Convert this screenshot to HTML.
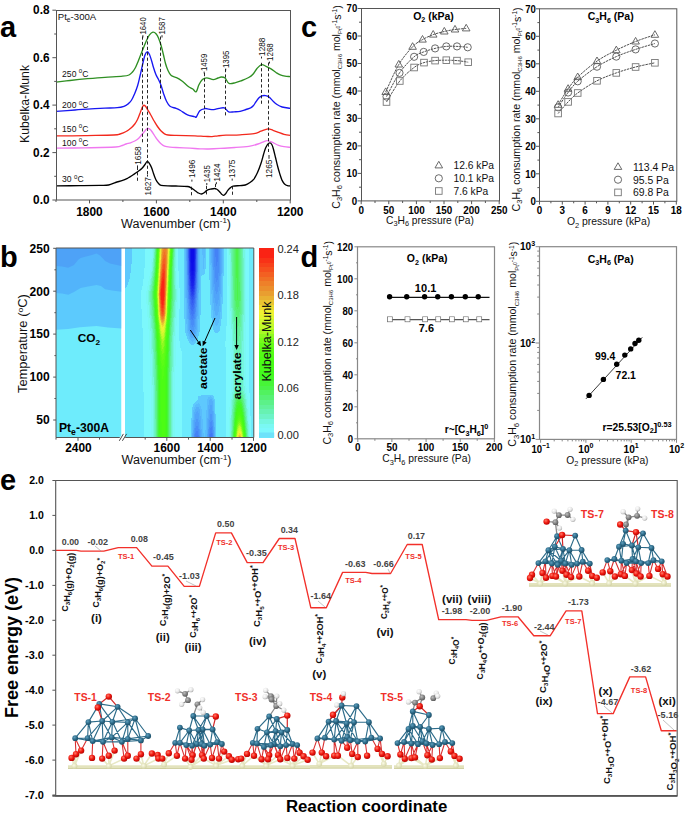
<!DOCTYPE html>
<html><head><meta charset="utf-8"><title>Figure</title>
<style>html,body{margin:0;padding:0;background:#fff;}svg{display:block;}</style></head>
<body><svg width="685" height="814" viewBox="0 0 685 814" font-family="'Liberation Sans', sans-serif">
<rect width="685" height="814" fill="#fff"/>
<text x="0" y="37" font-size="29" font-weight="bold">a</text>
<g fill="none" stroke-width="1.35" stroke-linejoin="round">
<path d="M56 82.2C58.3 81.9 64.8 81.1 70 80.5C75.2 79.9 81.7 79.2 87.5 78.7C93.3 78.2 99.2 77.7 105 77.3C110.8 76.9 118.6 76.6 122.6 76.2C126.6 75.8 127.3 75.7 129 75C130.7 74.3 131.4 73.2 132.5 72C133.6 70.8 134.5 69.3 135.5 67.5C136.5 65.7 137.4 63.2 138.3 61C139.2 58.8 140.1 56.2 141 54C141.9 51.8 142.7 49.8 143.6 47.5C144.5 45.2 145.5 42.6 146.5 40.5C147.5 38.4 148.4 36.2 149.5 34.8C150.6 33.4 151.8 32.4 152.9 32.2C154 32 155.1 32.8 156 33.8C156.9 34.8 157.7 36 158.5 38C159.3 40 160.3 42.7 161.1 45.5C161.9 48.3 162.8 52 163.5 55C164.2 58 164.8 60.9 165.5 63.5C166.2 66.1 167.1 68.5 168 70.5C168.9 72.5 169.8 74.3 171.2 75.5C172.6 76.7 174.7 76.7 176.5 77.6C178.3 78.5 180 79.5 182 81C184 82.5 186.5 85.2 188.3 86.5C190.1 87.8 191.5 88.1 192.8 89C194.1 89.9 195.2 92.5 196.2 91.8C197.2 91.1 197.8 87 198.8 85C199.8 83 201.1 80.7 202.4 79.5C203.7 78.3 204.9 77.8 206.7 77.8C208.5 77.8 211.4 79.6 213.3 79.6C215.2 79.6 216.7 78.4 218 78C219.3 77.6 220 77 221.2 77C222.4 77 223.8 76.9 225.1 78C226.4 79.1 227.2 82.6 229 83.4C230.8 84.2 233.4 83.1 235.6 82.6C237.8 82.1 239.8 81.3 242 80.5C244.2 79.7 246.9 78.5 248.7 77.5C250.5 76.5 251.3 76 252.7 74.5C254.1 73 255.5 70.2 257 68.5C258.5 66.8 260 65 261.5 64.6C263 64.2 264.4 65.6 266 66.3C267.6 67 269.3 67.8 271 68.8C272.7 69.8 274.4 71.5 276 72.5C277.6 73.5 278.8 74.3 280.3 74.9C281.8 75.5 283.3 75.9 285 76.2C286.7 76.5 289.4 76.5 290.3 76.6" stroke="#2f8f23"/>
<path d="M56 111.4C59.2 111.2 69.2 110.4 75 110C80.8 109.6 86 109.1 91 108.8C96 108.5 100.6 108.4 105 108.2C109.4 108 114.1 108 117.3 107.7C120.5 107.4 122.2 106.9 124 106.3C125.8 105.7 126.8 105 128 104C129.2 103 130.2 102.2 131.3 100.5C132.4 98.8 133.5 96.4 134.5 94C135.5 91.6 136.6 89 137.5 86C138.4 83 139.1 79.7 140 76C140.9 72.3 141.9 67.5 142.7 64C143.5 60.5 144.3 57 145 55C145.7 53 146.3 51.9 147.1 51.8C147.8 51.7 148.8 53 149.5 54.5C150.2 56 150.8 58.3 151.5 60.5C152.2 62.7 152.8 65.2 153.5 67.5C154.2 69.8 155.1 72.5 155.9 74.5C156.7 76.5 157.6 77.7 158.5 79.5C159.4 81.3 160.3 83.2 161.1 85.5C161.9 87.8 162.6 90.9 163.5 93.5C164.4 96.1 165.3 98.9 166.4 101C167.5 103.1 168.4 105.1 170 106.3C171.6 107.5 174.2 107.7 176 108.4C177.8 109.1 178.6 109.4 180.5 110.5C182.4 111.6 185.2 113.9 187.5 114.9C189.8 115.9 193 116.2 194.5 116.6C196 116.9 195.4 118 196.3 117C197.2 116 198.4 112.2 199.8 110.8C201.2 109.4 203.5 108.9 205 108.6C206.5 108.3 207.5 109 209 109.2C210.5 109.4 212.1 109.7 213.8 109.6C215.5 109.5 217.2 108.7 219 108.4C220.8 108.1 222.7 107.3 224.3 107.9C225.9 108.5 227.1 111.2 228.7 111.9C230.3 112.6 232.1 111.9 234 111.8C235.9 111.7 238.1 111.8 240.1 111.4C242.1 111 244.2 110.1 246 109.5C247.8 108.9 249.3 108.6 250.6 107.9C251.8 107.2 252.6 106.5 253.5 105.5C254.4 104.5 254.9 103.3 255.8 102C256.7 100.7 258 98.8 259 97.8C260 96.8 260.9 96.2 262 95.8C263.1 95.4 264.3 95.4 265.5 95.6C266.7 95.8 267.7 96 269 97C270.3 98 272.1 100.2 273.4 101.5C274.7 102.8 275.6 103.6 277 104.5C278.4 105.4 279.9 106.3 282.1 107C284.3 107.7 288.9 108.2 290.3 108.4" stroke="#1717f2"/>
<path d="M56 135.9C60.8 135.8 75.4 135.8 85 135.6C94.6 135.4 108 135.3 113.8 135C119.6 134.7 118 134.6 120 134C122 133.4 124.3 132.5 126.1 131.5C127.9 130.5 129.6 129.2 131 128C132.4 126.8 133.7 125.4 134.8 124C135.9 122.6 136.6 121.3 137.5 119.5C138.4 117.7 139.3 114.9 140.1 113C140.8 111.1 141.4 109.3 142 108C142.6 106.7 143 105.6 143.6 105.3C144.2 105 144.7 105.4 145.3 106C145.9 106.6 146.2 107.4 147.1 108.8C148 110.2 149.3 112.5 150.5 114.5C151.7 116.5 152.9 119 154.1 121C155.3 123 156.3 124.8 157.5 126.5C158.7 128.2 159.9 129.8 161.1 131C162.3 132.2 163.3 133.1 164.5 133.8C165.7 134.5 166.2 134.7 168.1 135C170 135.3 171.5 135.3 176 135.4C180.5 135.5 190.2 135.7 195 135.8C199.8 136 202.2 136.2 205 136.3C207.8 136.4 209.8 136.7 212 136.6C214.2 136.5 215.7 136 218 135.8C220.3 135.6 222.3 135.4 226 135.2C229.7 135 235.3 135.1 240 134.8C244.7 134.5 250.6 134.2 254.1 133.6C257.6 133 258.7 132 261 131.2C263.3 130.4 266.1 129.1 268.1 128.9C270.1 128.8 271.2 129.7 273 130.3C274.8 130.9 276.8 131.7 278.6 132.4C280.4 133.1 282.1 133.9 284 134.4C285.9 134.9 289.2 135.2 290.3 135.3" stroke="#f2291d"/>
<path d="M56 148.2C60.8 148.1 75.1 148 85 147.8C94.9 147.6 109.6 147.3 115.6 147C121.6 146.7 119.2 146.3 121 145.8C122.8 145.3 124.5 144.5 126.1 144C127.7 143.5 129.1 143.3 130.5 142.8C131.9 142.3 133.5 141.7 134.8 141C136.1 140.3 137.3 139.6 138.5 138.5C139.7 137.4 140.8 135.7 141.8 134.5C142.8 133.3 143.8 132.4 144.5 131.5C145.2 130.6 145.7 129.7 146.3 129.2C146.9 128.7 147.4 128.3 148 128.3C148.6 128.3 149.4 128.9 150 129.3C150.6 129.8 150.8 130 151.5 131C152.2 132 153.5 134 154.5 135.5C155.5 137 156.5 138.6 157.6 140C158.7 141.4 159.8 142.8 161 143.8C162.2 144.8 163.1 145.6 164.6 146.2C166.1 146.8 168.1 147 170 147.2C171.9 147.4 172.7 147.3 176 147.5C179.3 147.7 186 148 190 148.2C194 148.4 196.9 148.7 200 148.8C203.1 148.9 205.2 149.1 208.5 149C211.8 148.9 215.6 148.7 220 148.4C224.4 148.2 230.2 147.8 235 147.5C239.8 147.2 245 146.9 248.8 146.3C252.6 145.7 255.6 144.8 258 144C260.4 143.2 262 142.4 263.5 141.8C265 141.2 265.8 140.5 267.2 140.6C268.6 140.7 270.1 141.4 272 142.2C273.9 143 276.6 144.6 278.6 145.3C280.6 146.1 282.1 146.4 284 146.7C285.9 147 289.2 147.2 290.3 147.3" stroke="#f078f0"/>
<path d="M56 185.8C60 185.8 72.7 185.7 80 185.6C87.3 185.5 95.2 185.5 100 185.4C104.8 185.3 106 185.5 108.6 185C111.2 184.5 113.3 183.3 115.6 182.5C117.9 181.7 120.5 181.2 122.6 180.4C124.7 179.7 126.2 178.9 128 178C129.8 177.1 131.4 175.9 133.1 174.8C134.8 173.7 136.6 172.6 138 171.5C139.4 170.4 140.6 169.7 141.8 168.5C143 167.3 144.1 165.7 145 164.5C145.9 163.3 146.4 161.8 147.1 161.5C147.8 161.2 148.3 161.8 149 162.8C149.7 163.8 150.8 165.7 151.5 167.5C152.2 169.3 152.8 171.4 153.5 173.5C154.2 175.6 155.1 178.1 155.9 179.8C156.7 181.5 157.6 182.6 158.5 183.5C159.4 184.4 159.5 184.9 161.1 185.3C162.7 185.7 165.5 185.8 168 185.9C170.5 186 172.8 185.9 176 186C179.2 186.1 185 186.2 187.5 186.5C190 186.8 189.8 187.2 191 187.8C192.2 188.4 193.3 189.4 194.5 190.2C195.7 191 196.8 192.2 198 192.8C199.2 193.4 200.4 194.1 201.5 194C202.6 193.9 203.6 193.1 204.5 192.5C205.4 191.9 205.8 191 206.8 190.4C207.8 189.8 209 189.5 210.5 189.2C212 188.9 214.2 188.3 215.6 188.6C217 188.9 218.1 190.3 219.1 191.2C220.1 192.1 220.8 193.3 221.5 194C222.2 194.7 222.7 195.4 223.4 195.3C224.1 195.2 225.1 194.3 225.8 193.5C226.5 192.7 227 191.4 227.8 190.4C228.6 189.4 229.6 188.3 230.5 187.6C231.4 186.9 231.5 186.5 233.1 186.2C234.7 185.9 238 185.8 240 185.6C242 185.4 243.6 185.5 245.3 185C247 184.5 248.5 183.5 250 182.5C251.5 181.5 252.8 180.5 254.1 178.8C255.3 177.1 256.3 175.1 257.5 172.5C258.7 169.9 260.1 166 261.1 163C262.1 160 262.8 156.9 263.5 154.5C264.2 152.1 264.8 150 265.5 148.3C266.2 146.6 266.9 145.2 267.6 144.3C268.3 143.4 269.2 142.9 269.9 142.9C270.6 142.9 271.2 143.5 271.8 144.5C272.4 145.5 272.8 146.8 273.4 149C274 151.2 274.8 154.6 275.5 157.5C276.2 160.4 276.9 163.7 277.7 166.5C278.4 169.3 279.3 172.2 280 174.5C280.7 176.8 281.4 178.8 282.1 180.4C282.9 182 283.6 183.1 284.5 184C285.4 184.9 286.4 185.4 287.4 185.7C288.4 186 289.8 185.9 290.3 186" stroke="#000"/>
</g>
<g stroke="#111" stroke-width="0.9" stroke-dasharray="3.2 2.2">
<line x1="142.5" y1="36.5" x2="142.5" y2="143"/>
<line x1="147.5" y1="36" x2="147.5" y2="175.5"/>
<line x1="160.5" y1="36.5" x2="160.5" y2="101"/>
<line x1="204.5" y1="73" x2="204.5" y2="118.5"/>
<line x1="225.5" y1="69" x2="225.5" y2="117.5"/>
<line x1="261.5" y1="62.8" x2="261.5" y2="104.5"/>
<line x1="268.5" y1="62.5" x2="268.5" y2="152"/>
<line x1="137.5" y1="166.8" x2="137.5" y2="182.5"/>
<line x1="191.5" y1="186.7" x2="191.5" y2="196.2"/>
<line x1="206.5" y1="185.8" x2="206.5" y2="196.2"/>
<line x1="215.5" y1="183.8" x2="215.5" y2="189.6"/>
<line x1="232.5" y1="186.2" x2="232.5" y2="196.2"/>
</g>
<text x="0" y="0" font-size="9" text-anchor="middle" fill="#111" textLength="17.3" lengthAdjust="spacingAndGlyphs" transform="translate(146.1 25.9) rotate(-90)">1640</text>
<text x="0" y="0" font-size="9" text-anchor="middle" fill="#111" textLength="17.3" lengthAdjust="spacingAndGlyphs" transform="translate(165.2 25.9) rotate(-90)">1587</text>
<text x="0" y="0" font-size="9" text-anchor="middle" fill="#111" textLength="17.2" lengthAdjust="spacingAndGlyphs" transform="translate(207.4 62.4) rotate(-90)">1459</text>
<text x="0" y="0" font-size="9" text-anchor="middle" fill="#111" textLength="17.4" lengthAdjust="spacingAndGlyphs" transform="translate(228.9 59.3) rotate(-90)">1395</text>
<text x="0" y="0" font-size="9" text-anchor="middle" fill="#111" textLength="18.2" lengthAdjust="spacingAndGlyphs" transform="translate(264.7 46.8) rotate(-90)">1288</text>
<text x="0" y="0" font-size="9" text-anchor="middle" fill="#111" textLength="17.7" lengthAdjust="spacingAndGlyphs" transform="translate(272.7 52.1) rotate(-90)">1268</text>
<text x="0" y="0" font-size="9" text-anchor="middle" fill="#111" textLength="18.4" lengthAdjust="spacingAndGlyphs" transform="translate(140.7 155.6) rotate(-90)">1658</text>
<text x="0" y="0" font-size="9" text-anchor="middle" fill="#111" textLength="18.3" lengthAdjust="spacingAndGlyphs" transform="translate(150.7 186.3) rotate(-90)">1627</text>
<text x="0" y="0" font-size="9" text-anchor="middle" fill="#111" textLength="18.4" lengthAdjust="spacingAndGlyphs" transform="translate(195.1 168.8) rotate(-90)">1496</text>
<text x="0" y="0" font-size="9" text-anchor="middle" fill="#111" textLength="17.1" lengthAdjust="spacingAndGlyphs" transform="translate(210 173.8) rotate(-90)">1435</text>
<text x="0" y="0" font-size="9" text-anchor="middle" fill="#111" textLength="18.1" lengthAdjust="spacingAndGlyphs" transform="translate(219.6 172.4) rotate(-90)">1424</text>
<text x="0" y="0" font-size="9" text-anchor="middle" fill="#111" textLength="18.4" lengthAdjust="spacingAndGlyphs" transform="translate(235.4 168.8) rotate(-90)">1375</text>
<text x="0" y="0" font-size="9" text-anchor="middle" fill="#111" textLength="18.4" lengthAdjust="spacingAndGlyphs" transform="translate(272.2 168.8) rotate(-90)">1265</text>
<g stroke="#111" stroke-width="0.9">
<line x1="142.9" y1="35.2" x2="142.9" y2="37.5"/>
<line x1="162" y1="35.2" x2="162" y2="37.5"/>
<line x1="204.2" y1="71.6" x2="204.2" y2="73.5"/>
<line x1="225.7" y1="68.6" x2="225.7" y2="70.5"/>
<line x1="261.5" y1="56.6" x2="261.5" y2="58.5"/>
<line x1="269.5" y1="61.6" x2="269.5" y2="63.5"/>
<line x1="137.5" y1="165.4" x2="137.5" y2="167.4"/>
<line x1="147.5" y1="174.6" x2="147.5" y2="176.6"/>
<line x1="191.9" y1="179.6" x2="191.9" y2="181.6"/>
<line x1="206.8" y1="183" x2="206.8" y2="185"/>
<line x1="216.4" y1="182.2" x2="216.4" y2="184.2"/>
<line x1="232.2" y1="178.6" x2="232.2" y2="180.6"/>
<line x1="269" y1="155" x2="269" y2="158.8"/>
</g>
<text x="62.1" y="77" font-size="9.2" fill="#111" textLength="26.3" lengthAdjust="spacingAndGlyphs">250 <tspan font-size="6.5" dy="-3.6">o</tspan><tspan dy="3.6">C</tspan></text>
<text x="62.1" y="108.2" font-size="9.2" fill="#111" textLength="26.3" lengthAdjust="spacingAndGlyphs">200 <tspan font-size="6.5" dy="-3.6">o</tspan><tspan dy="3.6">C</tspan></text>
<text x="62.1" y="131.5" font-size="9.2" fill="#111" textLength="26.3" lengthAdjust="spacingAndGlyphs">150 <tspan font-size="6.5" dy="-3.6">o</tspan><tspan dy="3.6">C</tspan></text>
<text x="62.1" y="145.5" font-size="9.2" fill="#111" textLength="26.3" lengthAdjust="spacingAndGlyphs">100 <tspan font-size="6.5" dy="-3.6">o</tspan><tspan dy="3.6">C</tspan></text>
<text x="62.1" y="182.3" font-size="9.2" fill="#111" textLength="21.5" lengthAdjust="spacingAndGlyphs">30 <tspan font-size="6.5" dy="-3.6">o</tspan><tspan dy="3.6">C</tspan></text>
<text x="57.8" y="19.7" font-size="9.3" fill="#111" textLength="38.4" lengthAdjust="spacingAndGlyphs">Pt<tspan font-size="6.5" dy="2.2">e</tspan><tspan dy="-2.2">-300A</tspan></text>
<rect x="56.5" y="10.5" width="234" height="189.5" fill="none" stroke="#555" stroke-width="1"/>
<g stroke="#555" stroke-width="1">
<line x1="52.4" y1="200" x2="56" y2="200"/>
<line x1="54.2" y1="176.3" x2="56" y2="176.3"/>
<line x1="52.4" y1="152.6" x2="56" y2="152.6"/>
<line x1="54.2" y1="128.8" x2="56" y2="128.8"/>
<line x1="52.4" y1="105.1" x2="56" y2="105.1"/>
<line x1="54.2" y1="81.4" x2="56" y2="81.4"/>
<line x1="52.4" y1="57.7" x2="56" y2="57.7"/>
<line x1="54.2" y1="34" x2="56" y2="34"/>
<line x1="52.4" y1="10.2" x2="56" y2="10.2"/>
<line x1="56" y1="200" x2="56" y2="202"/>
<line x1="89.5" y1="200" x2="89.5" y2="203.4"/>
<line x1="122.9" y1="200" x2="122.9" y2="202"/>
<line x1="156.4" y1="200" x2="156.4" y2="203.4"/>
<line x1="189.8" y1="200" x2="189.8" y2="202"/>
<line x1="223.3" y1="200" x2="223.3" y2="203.4"/>
<line x1="256.8" y1="200" x2="256.8" y2="202"/>
<line x1="290.2" y1="200" x2="290.2" y2="203.4"/>
</g>
<text x="49.5" y="204.2" font-size="12" font-weight="bold" text-anchor="end" textLength="16.4" lengthAdjust="spacingAndGlyphs">0.0</text>
<text x="49.5" y="156.8" font-size="12" font-weight="bold" text-anchor="end" textLength="16.4" lengthAdjust="spacingAndGlyphs">0.2</text>
<text x="49.5" y="109.3" font-size="12" font-weight="bold" text-anchor="end" textLength="16.4" lengthAdjust="spacingAndGlyphs">0.4</text>
<text x="49.5" y="61.9" font-size="12" font-weight="bold" text-anchor="end" textLength="16.4" lengthAdjust="spacingAndGlyphs">0.6</text>
<text x="49.5" y="14.4" font-size="12" font-weight="bold" text-anchor="end" textLength="16.4" lengthAdjust="spacingAndGlyphs">0.8</text>
<text x="89.5" y="216" font-size="12" font-weight="bold" text-anchor="middle" textLength="26.5" lengthAdjust="spacingAndGlyphs">1800</text>
<text x="156.4" y="216" font-size="12" font-weight="bold" text-anchor="middle" textLength="26.5" lengthAdjust="spacingAndGlyphs">1600</text>
<text x="223.3" y="216" font-size="12" font-weight="bold" text-anchor="middle" textLength="26.5" lengthAdjust="spacingAndGlyphs">1400</text>
<text x="290.2" y="216" font-size="12" font-weight="bold" text-anchor="middle" textLength="26.5" lengthAdjust="spacingAndGlyphs">1200</text>
<text x="176" y="227.6" font-size="12" text-anchor="middle" fill="#111" textLength="110" lengthAdjust="spacingAndGlyphs">Wavenumber (cm<tspan font-size="7.5" dy="-4.5">-1</tspan><tspan dy="4.5">)</tspan></text>
<text x="0" y="0" font-size="12" text-anchor="middle" fill="#111" textLength="78" lengthAdjust="spacingAndGlyphs" transform="translate(28.8 104) rotate(-90)">Kubelka-Munk</text>
<text x="0" y="266.5" font-size="29" font-weight="bold">b</text>
<g shape-rendering="crispEdges">
<path fill="#0c0ce8" d="M191.5 248h1v7h-1z"/>
<path fill="#0c0ce8" d="M190.5 248h1v5h-1zM191.5 255h1v9h-1zM192.5 248h1v4h-1z"/>
<path fill="#0c0de8" d="M190.5 253h1v10h-1zM191.5 264h1v7h-1zM192.5 252h1v10h-1z"/>
<path fill="#0f11e9" d="M190.5 263h1v8h-1zM191.5 271h1v4h-1zM192.5 262h1v9h-1z"/>
<path fill="#1216e9" d="M189.5 248h1v2h-1zM190.5 271h1v4h-1zM191.5 275h1v4h-1zM192.5 271h1v4h-1zM193.5 248h1v1h-1z"/>
<path fill="#141bea" d="M189.5 250h1v12h-1zM190.5 275h1v4h-1zM191.5 279h1v3h-1zM192.5 275h1v4h-1zM193.5 249h1v12h-1z"/>
<path fill="#171fea" d="M189.5 262h1v10h-1zM190.5 279h1v4h-1zM191.5 282h1v4h-1zM192.5 279h1v4h-1zM193.5 261h1v10h-1z"/>
<path fill="#1a25eb" d="M189.5 272h1v4h-1zM190.5 283h1v3h-1zM191.5 286h1v2h-1zM192.5 283h1v3h-1zM193.5 271h1v5h-1z"/>
<path fill="#1e2fec" d="M189.5 276h1v5h-1zM190.5 286h1v3h-1zM191.5 288h1v3h-1zM192.5 286h1v3h-1zM193.5 276h1v5h-1z"/>
<path fill="#233aed" d="M188.5 248h1v13h-1zM189.5 281h1v5h-1zM190.5 289h1v3h-1zM191.5 291h1v3h-1zM192.5 289h1v3h-1zM193.5 281h1v4h-1zM194.5 248h1v11h-1z"/>
<path fill="#2744ee" d="M188.5 261h1v12h-1zM189.5 286h1v3h-1zM190.5 292h1v3h-1zM191.5 294h1v2h-1zM192.5 292h1v3h-1zM193.5 285h1v4h-1zM194.5 259h1v13h-1z"/>
<path fill="#2c4fef" d="M188.5 273h1v6h-1zM189.5 289h1v3h-1zM190.5 295h1v2h-1zM191.5 296h1v3h-1zM192.5 295h1v2h-1zM193.5 289h1v3h-1zM194.5 272h1v6h-1z"/>
<path fill="#3259f1" d="M188.5 279h1v7h-1zM189.5 292h1v4h-1zM190.5 297h1v3h-1zM191.5 299h1v4h-1zM192.5 297h1v3h-1zM193.5 292h1v3h-1zM194.5 278h1v7h-1z"/>
<path fill="#3764f2" d="M187.5 248h1v10h-1zM188.5 286h1v4h-1zM189.5 296h1v3h-1zM190.5 300h1v5h-1zM191.5 303h1v4h-1zM192.5 300h1v5h-1zM193.5 295h1v4h-1zM194.5 285h1v4h-1zM195.5 248h1v6h-1z"/>
<path fill="#3c6ef4" d="M187.5 258h1v17h-1zM188.5 290h1v5h-1zM189.5 299h1v5h-1zM190.5 305h1v5h-1zM191.5 307h1v4h-1zM192.5 305h1v4h-1zM193.5 299h1v4h-1zM194.5 289h1v5h-1zM195.5 254h1v20h-1z"/>
<path fill="#4078f5" d="M187.5 275h1v10h-1zM188.5 295h1v4h-1zM189.5 304h1v5h-1zM190.5 310h1v4h-1zM191.5 311h1v5h-1zM192.5 309h1v5h-1zM193.5 303h1v5h-1zM194.5 294h1v4h-1zM195.5 274h1v9h-1zM195.5 436h1v1.5h-1zM196.5 436h1v1.5h-1zM209.5 434h1v3.5h-1zM210.5 433h1v4.5h-1z"/>
<path fill="#4482f6" d="M187.5 285h1v7h-1zM188.5 299h1v7h-1zM189.5 309h1v6h-1zM190.5 314h1v5h-1zM191.5 316h1v4h-1zM192.5 314h1v4h-1zM193.5 308h1v6h-1zM194.5 298h1v6h-1zM194.5 433h1v4.5h-1zM195.5 283h1v8h-1zM195.5 431h1v5h-1zM196.5 431h1v5h-1zM197.5 435h1v2.5h-1zM208.5 434h1v3.5h-1zM209.5 428h1v6h-1zM210.5 427h1v6h-1zM211.5 433h1v4.5h-1zM214.5 248h1v9h-1zM215.5 248h1v18h-1zM216.5 248h1v14h-1z"/>
<path fill="#488df7" d="M186.5 248h1v27h-1zM187.5 292h1v7h-1zM188.5 306h1v7h-1zM189.5 315h1v5h-1zM190.5 319h1v6h-1zM191.5 320h1v7h-1zM192.5 318h1v7h-1zM193.5 314h1v5h-1zM193.5 434h1v3.5h-1zM194.5 304h1v8h-1zM194.5 428h1v5h-1zM195.5 291h1v7h-1zM195.5 426h1v5h-1zM196.5 248h1v24h-1zM196.5 426h1v5h-1zM197.5 429h1v6h-1zM198.5 436h1v1.5h-1zM208.5 427h1v7h-1zM209.5 422h1v6h-1zM210.5 421h1v6h-1zM211.5 426h1v7h-1zM213.5 248h1v19h-1zM214.5 257h1v21h-1zM215.5 266h1v16h-1zM216.5 262h1v18h-1zM217.5 248h1v25h-1z"/>
<path fill="#4c98f8" d="M186.5 275h1v15h-1zM187.5 299h1v10h-1zM188.5 313h1v7h-1zM189.5 320h1v8h-1zM190.5 325h1v6h-1zM191.5 327h1v5h-1zM192.5 325h1v6h-1zM192.5 437h1v0.5h-1zM193.5 319h1v8h-1zM193.5 428h1v6h-1zM194.5 312h1v7h-1zM194.5 422h1v6h-1zM195.5 298h1v9h-1zM195.5 419h1v7h-1zM196.5 272h1v16h-1zM196.5 419h1v7h-1zM197.5 422h1v7h-1zM198.5 429h1v7h-1zM207.5 429h1v8.5h-1zM208.5 420h1v7h-1zM209.5 414h1v8h-1zM210.5 414h1v7h-1zM211.5 420h1v6h-1zM212.5 248h1v22h-1zM212.5 430h1v7.5h-1zM213.5 267h1v17h-1zM214.5 278h1v13h-1zM215.5 282h1v12h-1zM216.5 280h1v12h-1zM217.5 273h1v14h-1zM218.5 248h1v28h-1z"/>
<path fill="#50a4fa" d="M185.5 248h1v13h-1zM186.5 290h1v13h-1zM187.5 309h1v10h-1zM188.5 320h1v10h-1zM189.5 328h1v5h-1zM190.5 331h1v4h-1zM191.5 332h1v3h-1zM192.5 331h1v3h-1zM192.5 430h1v7h-1zM193.5 327h1v6h-1zM193.5 420h1v8h-1zM194.5 319h1v10h-1zM194.5 414h1v8h-1zM195.5 307h1v10h-1zM195.5 412h1v7h-1zM196.5 288h1v12h-1zM196.5 411h1v8h-1zM197.5 413h1v9h-1zM198.5 420h1v9h-1zM199.5 430h1v7.5h-1zM206.5 434h1v3.5h-1zM207.5 419h1v10h-1zM208.5 409h1v11h-1zM209.5 405h1v9h-1zM210.5 405h1v9h-1zM211.5 248h1v19h-1zM211.5 411h1v9h-1zM212.5 270h1v17h-1zM212.5 422h1v8h-1zM213.5 284h1v14h-1zM214.5 291h1v12h-1zM215.5 294h1v12h-1zM216.5 292h1v12h-1zM217.5 287h1v13h-1zM218.5 276h1v15h-1zM219.5 248h1v28h-1z"/>
<path fill="#54aefa" d="M185.5 261h1v37h-1zM186.5 303h1v16h-1zM187.5 319h1v12h-1zM188.5 330h1v4h-1zM189.5 333h1v4h-1zM190.5 335h1v3h-1zM191.5 335h1v3h-1zM191.5 433h1v4.5h-1zM192.5 334h1v4h-1zM192.5 420h1v10h-1zM193.5 333h1v3h-1zM193.5 412h1v8h-1zM194.5 329h1v5h-1zM194.5 409h1v5h-1zM195.5 317h1v13h-1zM195.5 407h1v5h-1zM196.5 300h1v16h-1zM196.5 407h1v4h-1zM197.5 248h1v45h-1zM197.5 407h1v6h-1zM198.5 409h1v11h-1zM199.5 416h1v14h-1zM200.5 429h1v8.5h-1zM206.5 418h1v16h-1zM207.5 405h1v14h-1zM208.5 400h1v9h-1zM209.5 399h1v6h-1zM210.5 248h1v15h-1zM210.5 399h1v6h-1zM211.5 267h1v23h-1zM211.5 401h1v10h-1zM212.5 287h1v16h-1zM212.5 411h1v11h-1zM213.5 298h1v13h-1zM213.5 427h1v10.5h-1zM214.5 303h1v12h-1zM215.5 306h1v10h-1zM216.5 304h1v11h-1zM217.5 300h1v12h-1zM218.5 291h1v15h-1zM219.5 276h1v18h-1zM220.5 248h1v26h-1z"/>
<path fill="#59bbfc" d="M184.5 248h1v50h-1zM185.5 298h1v26h-1zM186.5 319h1v14h-1zM187.5 331h1v5h-1zM188.5 334h1v5h-1zM189.5 337h1v3h-1zM190.5 338h1v3h-1zM190.5 437h1v0.5h-1zM191.5 338h1v4h-1zM191.5 420h1v13h-1zM192.5 338h1v3h-1zM192.5 410h1v10h-1zM193.5 336h1v4h-1zM193.5 407h1v5h-1zM194.5 334h1v4h-1zM194.5 405h1v4h-1zM195.5 330h1v6h-1zM195.5 404h1v3h-1zM196.5 316h1v16h-1zM196.5 404h1v3h-1zM197.5 293h1v26h-1zM197.5 403h1v4h-1zM198.5 248h1v42h-1zM198.5 404h1v5h-1zM199.5 406h1v10h-1zM200.5 409h1v20h-1zM201.5 248h1v7h-1zM201.5 419h1v18.5h-1zM202.5 248h1v21h-1zM202.5 433h1v4.5h-1zM203.5 248h1v10h-1zM204.5 430h1v7.5h-1zM205.5 410h1v27.5h-1zM206.5 399h1v19h-1zM207.5 397h1v8h-1zM208.5 397h1v3h-1zM209.5 248h1v17h-1zM209.5 396h1v3h-1zM210.5 263h1v31h-1zM210.5 397h1v2h-1zM211.5 290h1v20h-1zM211.5 398h1v3h-1zM212.5 303h1v15h-1zM212.5 400h1v11h-1zM213.5 311h1v11h-1zM213.5 413h1v14h-1zM214.5 315h1v10h-1zM214.5 437h1v0.5h-1zM215.5 316h1v10h-1zM216.5 315h1v10h-1zM217.5 312h1v11h-1zM218.5 306h1v13h-1zM219.5 294h1v18h-1zM220.5 274h1v23h-1zM221.5 248h1v25h-1z"/>
<path fill="#5ec8fd" d="M124.5 248h1v40h-1zM125.5 248h1v39h-1zM126.5 248h1v37h-1zM127.5 248h1v34h-1zM128.5 248h1v31h-1zM129.5 248h1v25h-1zM130.5 248h1v16h-1zM183.5 248h1v71h-1zM184.5 298h1v35h-1zM185.5 324h1v12h-1zM186.5 333h1v6h-1zM187.5 336h1v5h-1zM188.5 339h1v4h-1zM189.5 340h1v4h-1zM190.5 341h1v4h-1zM190.5 418h1v19h-1zM191.5 342h1v3h-1zM191.5 407h1v13h-1zM192.5 341h1v4h-1zM192.5 404h1v6h-1zM193.5 340h1v4h-1zM193.5 403h1v4h-1zM194.5 338h1v5h-1zM194.5 402h1v3h-1zM195.5 336h1v5h-1zM195.5 401h1v3h-1zM196.5 332h1v7h-1zM196.5 400h1v4h-1zM197.5 319h1v17h-1zM197.5 396h1v7h-1zM198.5 290h1v42h-1zM198.5 396h1v8h-1zM199.5 248h1v67h-1zM199.5 396h1v10h-1zM200.5 248h1v28h-1zM200.5 395h1v14h-1zM201.5 255h1v20h-1zM201.5 395h1v24h-1zM202.5 269h1v6h-1zM202.5 395h1v38h-1zM203.5 258h1v16h-1zM203.5 395h1v42.5h-1zM204.5 248h1v21h-1zM204.5 395h1v35h-1zM205.5 395h1v15h-1zM206.5 395h1v4h-1zM207.5 395h1v2h-1zM208.5 248h1v32h-1zM208.5 395h1v2h-1zM209.5 265h1v40h-1zM209.5 395h1v1h-1zM210.5 294h1v24h-1zM210.5 395h1v2h-1zM211.5 310h1v16h-1zM211.5 395h1v3h-1zM212.5 318h1v12h-1zM212.5 396h1v4h-1zM213.5 322h1v10h-1zM213.5 399h1v14h-1zM214.5 325h1v8h-1zM214.5 414h1v23h-1zM215.5 326h1v7h-1zM216.5 325h1v8h-1zM217.5 323h1v9h-1zM218.5 319h1v12h-1zM219.5 312h1v14h-1zM220.5 297h1v22h-1zM221.5 273h1v31h-1zM222.5 248h1v28h-1z"/>
<path fill="#6ceafc" d="M124.5 288h1v1h-1zM126.5 285h1v1h-1zM127.5 282h1v2h-1zM128.5 279h1v2h-1zM129.5 273h1v4h-1zM130.5 264h1v8h-1zM131.5 248h1v13h-1zM181.5 248h1v84h-1zM182.5 248h1v89h-1zM183.5 319h1v21h-1zM184.5 333h1v9h-1zM185.5 336h1v8h-1zM186.5 339h1v7h-1zM187.5 341h1v6h-1zM188.5 343h1v5h-1zM188.5 425h1v12.5h-1zM189.5 344h1v4h-1zM189.5 407h1v30.5h-1zM190.5 345h1v3h-1zM190.5 402h1v16h-1zM191.5 345h1v3h-1zM191.5 400h1v7h-1zM192.5 345h1v3h-1zM192.5 395h1v9h-1zM193.5 344h1v4h-1zM193.5 394h1v9h-1zM194.5 343h1v5h-1zM194.5 393h1v9h-1zM195.5 341h1v6h-1zM195.5 393h1v8h-1zM196.5 339h1v7h-1zM196.5 393h1v7h-1zM197.5 336h1v9h-1zM197.5 392h1v4h-1zM198.5 332h1v11h-1zM198.5 392h1v4h-1zM199.5 315h1v26h-1zM199.5 392h1v4h-1zM200.5 276h1v62h-1zM200.5 392h1v3h-1zM201.5 275h1v60h-1zM201.5 392h1v3h-1zM202.5 275h1v56h-1zM202.5 392h1v3h-1zM203.5 274h1v33h-1zM203.5 392h1v3h-1zM204.5 269h1v11h-1zM204.5 392h1v3h-1zM205.5 248h1v34h-1zM205.5 392h1v3h-1zM206.5 248h1v56h-1zM206.5 392h1v3h-1zM207.5 248h1v70h-1zM207.5 392h1v3h-1zM208.5 280h1v48h-1zM208.5 393h1v2h-1zM209.5 305h1v28h-1zM209.5 393h1v2h-1zM210.5 318h1v17h-1zM210.5 393h1v2h-1zM211.5 326h1v10h-1zM211.5 393h1v2h-1zM212.5 330h1v7h-1zM212.5 394h1v2h-1zM213.5 332h1v6h-1zM213.5 394h1v5h-1zM214.5 333h1v5h-1zM214.5 396h1v18h-1zM215.5 333h1v5h-1zM215.5 399h1v38.5h-1zM216.5 333h1v5h-1zM216.5 432h1v5.5h-1zM217.5 332h1v6h-1zM218.5 331h1v6h-1zM219.5 326h1v10h-1zM220.5 319h1v15h-1zM221.5 304h1v27h-1zM222.5 276h1v44h-1zM223.5 248h1v46h-1zM251.5 248h1v106h-1zM252.5 248h1v183h-1zM253.5 248h0.3v189.5h-0.3z"/>
<path fill="#6ceafc" d="M124.5 289h1v148.5h-1zM125.5 287h1v150.5h-1zM126.5 286h1v151.5h-1zM127.5 284h1v153.5h-1zM128.5 281h1v156.5h-1zM129.5 277h1v160.5h-1zM130.5 272h1v165.5h-1zM131.5 261h1v176.5h-1zM132.5 248h1v189.5h-1zM133.5 248h1v189.5h-1zM134.5 248h1v189.5h-1zM135.5 248h1v189.5h-1zM136.5 248h1v189.5h-1zM137.5 248h1v189.5h-1zM138.5 248h1v189.5h-1zM139.5 248h1v189.5h-1zM140.5 248h1v42h-1zM140.5 309h1v128.5h-1zM141.5 248h1v38h-1zM141.5 328h1v109.5h-1zM142.5 248h1v31h-1zM142.5 392h1v45.5h-1zM143.5 248h1v20h-1zM144.5 248h1v1h-1zM177.5 248h1v23h-1zM178.5 248h1v40h-1zM178.5 309h1v32h-1zM179.5 248h1v100h-1zM180.5 248h1v103h-1zM181.5 332h1v105.5h-1zM182.5 337h1v100.5h-1zM183.5 340h1v97.5h-1zM184.5 342h1v95.5h-1zM185.5 344h1v93.5h-1zM186.5 346h1v91.5h-1zM187.5 347h1v90.5h-1zM188.5 348h1v77h-1zM189.5 348h1v59h-1zM190.5 348h1v54h-1zM191.5 348h1v52h-1zM192.5 348h1v47h-1zM193.5 348h1v46h-1zM194.5 348h1v45h-1zM195.5 347h1v46h-1zM196.5 346h1v47h-1zM197.5 345h1v47h-1zM198.5 343h1v49h-1zM199.5 341h1v51h-1zM200.5 338h1v54h-1zM201.5 335h1v57h-1zM202.5 331h1v61h-1zM203.5 307h1v85h-1zM204.5 280h1v112h-1zM205.5 282h1v110h-1zM206.5 304h1v88h-1zM207.5 318h1v74h-1zM208.5 328h1v65h-1zM209.5 333h1v60h-1zM210.5 335h1v58h-1zM211.5 336h1v57h-1zM212.5 337h1v57h-1zM213.5 338h1v56h-1zM214.5 338h1v58h-1zM215.5 338h1v61h-1zM216.5 338h1v94h-1zM217.5 338h1v99.5h-1zM218.5 337h1v100.5h-1zM219.5 336h1v101.5h-1zM220.5 334h1v103.5h-1zM221.5 331h1v106.5h-1zM222.5 320h1v117.5h-1zM223.5 294h1v143.5h-1zM224.5 248h1v93h-1zM224.5 347h1v90.5h-1zM225.5 248h1v78h-1zM248.5 248h1v145h-1zM249.5 248h1v168h-1zM250.5 248h1v189.5h-1zM251.5 354h1v83.5h-1zM252.5 431h1v6.5h-1z"/>
<path fill="#7cf8fc" d="M140.5 290h1v19h-1zM141.5 286h1v42h-1zM142.5 279h1v113h-1zM143.5 268h1v169.5h-1zM144.5 249h1v188.5h-1zM145.5 248h1v43h-1zM145.5 304h1v133.5h-1zM146.5 248h1v38h-1zM146.5 317h1v120.5h-1zM147.5 248h1v33h-1zM147.5 329h1v108.5h-1zM148.5 248h1v28h-1zM148.5 350h1v87.5h-1zM149.5 248h1v22h-1zM149.5 376h1v61.5h-1zM150.5 248h1v11h-1zM174.5 366h1v71.5h-1zM175.5 326h1v111.5h-1zM176.5 248h1v37h-1zM176.5 309h1v128.5h-1zM177.5 271h1v166.5h-1zM178.5 288h1v21h-1zM178.5 341h1v96.5h-1zM179.5 348h1v89.5h-1zM180.5 351h1v86.5h-1zM224.5 341h1v6h-1zM225.5 326h1v111.5h-1zM226.5 248h1v189.5h-1zM227.5 286h1v151.5h-1zM228.5 325h1v82h-1zM229.5 352h1v41h-1zM245.5 248h1v51h-1zM245.5 301h1v87h-1zM246.5 248h1v148h-1zM247.5 248h1v159h-1zM248.5 393h1v32h-1zM249.5 416h1v21.5h-1z"/>
<path fill="#7af8f3" d="M145.5 291h1v13h-1zM146.5 286h1v31h-1zM147.5 281h1v9h-1zM147.5 305h1v24h-1zM148.5 276h1v9h-1zM148.5 318h1v32h-1zM149.5 270h1v9h-1zM149.5 331h1v45h-1zM150.5 259h1v13h-1zM150.5 354h1v83.5h-1zM151.5 248h1v14h-1zM151.5 385h1v52.5h-1zM152.5 248h1v1h-1zM172.5 372h1v65.5h-1zM173.5 336h1v101.5h-1zM174.5 268h1v3h-1zM174.5 318h1v48h-1zM175.5 248h1v41h-1zM175.5 302h1v24h-1zM176.5 285h1v24h-1zM227.5 248h1v38h-1zM228.5 255h1v70h-1zM228.5 407h1v30.5h-1zM229.5 311h1v41h-1zM229.5 393h1v25h-1zM230.5 329h1v70h-1zM231.5 350h1v42h-1zM243.5 248h1v2h-1zM243.5 322h1v64h-1zM244.5 248h1v145h-1zM245.5 299h1v2h-1zM245.5 388h1v11h-1zM246.5 396h1v13h-1zM247.5 407h1v17h-1zM248.5 425h1v12.5h-1z"/>
<path fill="#75f6e0" d="M147.5 290h1v15h-1zM148.5 285h1v6h-1zM148.5 302h1v16h-1zM149.5 279h1v6h-1zM149.5 315h1v16h-1zM150.5 272h1v6h-1zM150.5 328h1v26h-1zM151.5 262h1v9h-1zM151.5 349h1v36h-1zM152.5 249h1v9h-1zM152.5 377h1v60.5h-1zM171.5 367h1v70.5h-1zM172.5 332h1v40h-1zM173.5 317h1v19h-1zM174.5 248h1v20h-1zM174.5 271h1v18h-1zM174.5 300h1v18h-1zM175.5 289h1v13h-1zM228.5 248h1v7h-1zM229.5 253h1v58h-1zM229.5 418h1v19.5h-1zM230.5 308h1v21h-1zM230.5 399h1v16h-1zM231.5 324h1v26h-1zM231.5 392h1v8h-1zM232.5 341h1v53h-1zM233.5 355h1v36h-1zM241.5 341h1v36h-1zM242.5 248h1v10h-1zM242.5 315h1v76h-1zM243.5 250h1v72h-1zM243.5 386h1v8h-1zM244.5 393h1v6h-1zM245.5 399h1v9h-1zM246.5 409h1v12h-1zM247.5 424h1v12h-1z"/>
<path fill="#6df3c7" d="M148.5 291h1v11h-1zM149.5 285h1v6h-1zM149.5 302h1v13h-1zM150.5 278h1v6h-1zM150.5 316h1v12h-1zM151.5 271h1v5h-1zM151.5 329h1v20h-1zM152.5 258h1v9h-1zM152.5 352h1v25h-1zM153.5 248h1v4h-1zM153.5 385h1v52.5h-1zM170.5 371h1v66.5h-1zM171.5 335h1v32h-1zM172.5 318h1v14h-1zM173.5 257h1v28h-1zM173.5 302h1v15h-1zM174.5 289h1v11h-1zM229.5 248h1v5h-1zM230.5 262h1v46h-1zM230.5 415h1v16h-1zM231.5 308h1v16h-1zM231.5 400h1v9h-1zM232.5 322h1v19h-1zM232.5 394h1v5h-1zM233.5 334h1v21h-1zM233.5 391h1v3h-1zM234.5 346h1v45h-1zM235.5 354h1v33h-1zM236.5 359h1v5h-1zM238.5 357h1v8h-1zM239.5 349h1v28h-1zM240.5 331h1v59h-1zM241.5 314h1v27h-1zM241.5 377h1v15h-1zM242.5 258h1v57h-1zM242.5 391h1v4h-1zM243.5 394h1v5h-1zM244.5 399h1v6h-1zM245.5 408h1v8h-1zM246.5 421h1v8h-1zM247.5 436h1v1.5h-1z"/>
<path fill="#67f2b2" d="M149.5 291h1v11h-1zM150.5 284h1v5h-1zM150.5 305h1v11h-1zM151.5 276h1v5h-1zM151.5 319h1v10h-1zM152.5 267h1v6h-1zM152.5 333h1v19h-1zM153.5 252h1v7h-1zM153.5 359h1v26h-1zM154.5 419h1v18.5h-1zM170.5 342h1v29h-1zM171.5 322h1v13h-1zM172.5 306h1v12h-1zM173.5 248h1v9h-1zM173.5 285h1v17h-1zM230.5 248h1v14h-1zM230.5 431h1v6.5h-1zM231.5 276h1v32h-1zM231.5 409h1v11h-1zM232.5 310h1v12h-1zM232.5 399h1v6h-1zM233.5 321h1v13h-1zM233.5 394h1v4h-1zM234.5 329h1v17h-1zM234.5 391h1v3h-1zM235.5 337h1v17h-1zM235.5 387h1v5h-1zM236.5 341h1v18h-1zM236.5 364h1v27h-1zM237.5 341h1v50h-1zM238.5 336h1v21h-1zM238.5 365h1v26h-1zM239.5 327h1v22h-1zM239.5 377h1v14h-1zM240.5 315h1v16h-1zM240.5 390h1v3h-1zM241.5 248h1v66h-1zM241.5 392h1v3h-1zM242.5 395h1v3h-1zM243.5 399h1v4h-1zM244.5 405h1v6h-1zM245.5 416h1v7h-1zM246.5 429h1v7h-1z"/>
<path fill="#62f19d" d="M150.5 289h1v16h-1zM151.5 281h1v5h-1zM151.5 310h1v9h-1zM152.5 273h1v4h-1zM152.5 323h1v10h-1zM153.5 259h1v7h-1zM153.5 340h1v19h-1zM154.5 248h1v1h-1zM154.5 369h1v50h-1zM169.5 356h1v81.5h-1zM170.5 327h1v15h-1zM171.5 312h1v10h-1zM172.5 260h1v46h-1zM231.5 248h1v28h-1zM231.5 420h1v10h-1zM232.5 290h1v20h-1zM232.5 405h1v7h-1zM233.5 311h1v10h-1zM233.5 398h1v4h-1zM234.5 319h1v10h-1zM234.5 394h1v3h-1zM235.5 324h1v13h-1zM235.5 392h1v3h-1zM236.5 327h1v14h-1zM236.5 391h1v2h-1zM237.5 326h1v15h-1zM237.5 391h1v2h-1zM238.5 323h1v13h-1zM238.5 391h1v2h-1zM239.5 314h1v13h-1zM239.5 391h1v2h-1zM240.5 248h1v67h-1zM240.5 393h1v2h-1zM241.5 395h1v2h-1zM242.5 398h1v3h-1zM243.5 403h1v5h-1zM244.5 411h1v6h-1zM245.5 423h1v5h-1zM246.5 436h1v1.5h-1z"/>
<path fill="#5cf189" d="M151.5 286h1v5h-1zM151.5 300h1v10h-1zM152.5 277h1v5h-1zM152.5 316h1v7h-1zM153.5 266h1v6h-1zM153.5 329h1v11h-1zM154.5 249h1v6h-1zM154.5 352h1v17h-1zM155.5 391h1v46.5h-1zM168.5 372h1v65.5h-1zM169.5 336h1v20h-1zM170.5 318h1v9h-1zM171.5 301h1v11h-1zM172.5 252h1v8h-1zM231.5 430h1v7.5h-1zM232.5 248h1v42h-1zM232.5 412h1v8h-1zM233.5 300h1v11h-1zM233.5 402h1v5h-1zM234.5 310h1v9h-1zM234.5 397h1v3h-1zM235.5 315h1v9h-1zM235.5 395h1v2h-1zM236.5 318h1v9h-1zM236.5 393h1v3h-1zM237.5 317h1v9h-1zM237.5 393h1v2h-1zM238.5 312h1v11h-1zM238.5 393h1v2h-1zM239.5 248h1v43h-1zM239.5 301h1v13h-1zM239.5 393h1v3h-1zM240.5 395h1v2h-1zM241.5 397h1v3h-1zM242.5 401h1v4h-1zM243.5 408h1v4h-1zM244.5 417h1v5h-1zM245.5 428h1v5h-1z"/>
<path fill="#57f175" d="M151.5 291h1v9h-1zM152.5 282h1v4h-1zM152.5 307h1v9h-1zM153.5 272h1v4h-1zM153.5 322h1v7h-1zM154.5 255h1v7h-1zM154.5 338h1v14h-1zM155.5 365h1v26h-1zM168.5 351h1v21h-1zM169.5 325h1v11h-1zM170.5 309h1v9h-1zM171.5 266h1v35h-1zM172.5 248h1v4h-1zM232.5 420h1v6h-1zM233.5 248h1v52h-1zM233.5 407h1v5h-1zM234.5 301h1v9h-1zM234.5 400h1v4h-1zM235.5 307h1v8h-1zM235.5 397h1v3h-1zM236.5 309h1v9h-1zM236.5 396h1v2h-1zM237.5 307h1v10h-1zM237.5 395h1v2h-1zM238.5 248h1v34h-1zM238.5 301h1v11h-1zM238.5 395h1v2h-1zM239.5 291h1v10h-1zM239.5 396h1v2h-1zM240.5 397h1v3h-1zM241.5 400h1v3h-1zM242.5 405h1v3h-1zM243.5 412h1v4h-1zM244.5 422h1v4h-1zM245.5 433h1v4.5h-1z"/>
<path fill="#51f25f" d="M152.5 286h1v5h-1zM152.5 299h1v8h-1zM153.5 276h1v4h-1zM153.5 316h1v6h-1zM154.5 262h1v6h-1zM154.5 329h1v9h-1zM155.5 248h1v1h-1zM155.5 351h1v14h-1zM156.5 380h1v57.5h-1zM167.5 368h1v69.5h-1zM168.5 335h1v16h-1zM169.5 318h1v7h-1zM170.5 299h1v10h-1zM171.5 259h1v7h-1zM232.5 426h1v6h-1zM233.5 412h1v6h-1zM234.5 248h1v53h-1zM234.5 404h1v4h-1zM235.5 278h1v29h-1zM235.5 400h1v2h-1zM236.5 300h1v9h-1zM236.5 398h1v2h-1zM237.5 248h1v59h-1zM237.5 397h1v2h-1zM238.5 282h1v19h-1zM238.5 397h1v2h-1zM239.5 398h1v2h-1zM240.5 400h1v2h-1zM241.5 403h1v3h-1zM242.5 408h1v4h-1zM243.5 416h1v4h-1zM244.5 426h1v4h-1z"/>
<path fill="#4bf349" d="M152.5 291h1v8h-1zM153.5 280h1v5h-1zM153.5 308h1v8h-1zM154.5 268h1v5h-1zM154.5 323h1v6h-1zM155.5 249h1v5h-1zM155.5 339h1v12h-1zM156.5 365h1v15h-1zM167.5 352h1v16h-1zM168.5 327h1v8h-1zM169.5 311h1v7h-1zM170.5 279h1v20h-1zM171.5 253h1v6h-1zM232.5 432h1v5.5h-1zM233.5 418h1v4h-1zM234.5 408h1v4h-1zM235.5 248h1v30h-1zM235.5 402h1v3h-1zM236.5 248h1v52h-1zM236.5 400h1v2h-1zM237.5 399h1v2h-1zM238.5 399h1v2h-1zM239.5 400h1v2h-1zM240.5 402h1v2h-1zM241.5 406h1v3h-1zM242.5 412h1v3h-1zM243.5 420h1v3h-1zM244.5 430h1v3h-1z"/>
<path fill="#47f537" d="M153.5 285h1v5h-1zM153.5 300h1v8h-1zM154.5 273h1v4h-1zM154.5 318h1v5h-1zM155.5 254h1v6h-1zM155.5 331h1v8h-1zM156.5 353h1v12h-1zM157.5 379h1v58.5h-1zM166.5 367h1v70.5h-1zM167.5 338h1v14h-1zM168.5 321h1v6h-1zM169.5 302h1v9h-1zM170.5 267h1v12h-1zM171.5 248h1v5h-1zM233.5 422h1v5h-1zM234.5 412h1v4h-1zM235.5 405h1v4h-1zM236.5 402h1v3h-1zM237.5 401h1v2h-1zM238.5 401h1v2h-1zM239.5 402h1v2h-1zM240.5 404h1v3h-1zM241.5 409h1v3h-1zM242.5 415h1v3h-1zM243.5 423h1v3h-1zM244.5 433h1v4h-1z"/>
<path fill="#44f828" d="M153.5 290h1v10h-1zM154.5 277h1v5h-1zM154.5 312h1v6h-1zM155.5 260h1v7h-1zM155.5 325h1v6h-1zM156.5 341h1v12h-1zM157.5 365h1v14h-1zM158.5 434h1v3.5h-1zM166.5 354h1v13h-1zM167.5 330h1v8h-1zM168.5 315h1v6h-1zM169.5 291h1v11h-1zM170.5 262h1v5h-1zM233.5 427h1v4h-1zM234.5 416h1v4h-1zM235.5 409h1v3h-1zM236.5 405h1v3h-1zM237.5 403h1v3h-1zM238.5 403h1v2h-1zM239.5 404h1v3h-1zM240.5 407h1v3h-1zM241.5 412h1v3h-1zM242.5 418h1v3h-1zM243.5 426h1v3h-1zM244.5 437h1v0.5h-1z"/>
<path fill="#42fa1c" d="M154.5 282h1v4h-1zM154.5 305h1v7h-1zM155.5 267h1v5h-1zM155.5 321h1v4h-1zM156.5 248h1v3h-1zM156.5 335h1v6h-1zM157.5 355h1v10h-1zM158.5 375h1v59h-1zM165.5 366h1v71.5h-1zM166.5 341h1v13h-1zM167.5 324h1v6h-1zM168.5 307h1v8h-1zM169.5 278h1v13h-1zM170.5 257h1v5h-1zM233.5 431h1v4h-1zM234.5 420h1v3h-1zM235.5 412h1v3h-1zM236.5 408h1v2h-1zM237.5 406h1v2h-1zM238.5 405h1v3h-1zM239.5 407h1v2h-1zM240.5 410h1v2h-1zM241.5 415h1v2h-1zM242.5 421h1v3h-1zM243.5 429h1v3h-1z"/>
<path fill="#46fb19" d="M154.5 286h1v5h-1zM154.5 298h1v7h-1zM155.5 272h1v4h-1zM155.5 317h1v4h-1zM156.5 251h1v6h-1zM156.5 329h1v6h-1zM157.5 345h1v10h-1zM158.5 364h1v11h-1zM159.5 405h1v32.5h-1zM164.5 377h1v60.5h-1zM165.5 356h1v10h-1zM166.5 334h1v7h-1zM167.5 319h1v5h-1zM168.5 299h1v8h-1zM169.5 270h1v8h-1zM170.5 252h1v5h-1zM233.5 435h1v2.5h-1zM234.5 423h1v3h-1zM235.5 415h1v3h-1zM236.5 410h1v3h-1zM237.5 408h1v3h-1zM238.5 408h1v2h-1zM239.5 409h1v2h-1zM240.5 412h1v3h-1zM241.5 417h1v3h-1zM242.5 424h1v2h-1zM243.5 432h1v3h-1z"/>
<path fill="#48fb17" d="M154.5 291h1v7h-1zM155.5 276h1v5h-1zM155.5 312h1v5h-1zM156.5 257h1v6h-1zM156.5 324h1v5h-1zM157.5 338h1v7h-1zM158.5 356h1v8h-1zM159.5 368h1v37h-1zM160.5 422h1v15.5h-1zM164.5 364h1v13h-1zM165.5 346h1v10h-1zM166.5 328h1v6h-1zM167.5 315h1v4h-1zM168.5 290h1v9h-1zM169.5 265h1v5h-1zM170.5 248h1v4h-1zM234.5 426h1v4h-1zM235.5 418h1v3h-1zM236.5 413h1v3h-1zM237.5 411h1v2h-1zM238.5 410h1v2h-1zM239.5 411h1v3h-1zM240.5 415h1v2h-1zM241.5 420h1v2h-1zM242.5 426h1v2h-1zM243.5 435h1v2.5h-1z"/>
<path fill="#4cfc14" d="M155.5 281h1v4h-1zM155.5 305h1v7h-1zM156.5 263h1v6h-1zM156.5 321h1v3h-1zM157.5 333h1v5h-1zM158.5 348h1v8h-1zM159.5 361h1v7h-1zM160.5 369h1v53h-1zM161.5 379h1v58.5h-1zM162.5 376h1v61.5h-1zM163.5 367h1v70.5h-1zM164.5 356h1v8h-1zM165.5 338h1v8h-1zM166.5 324h1v4h-1zM167.5 308h1v7h-1zM168.5 282h1v8h-1zM169.5 260h1v5h-1zM234.5 430h1v3h-1zM235.5 421h1v3h-1zM236.5 416h1v3h-1zM237.5 413h1v3h-1zM238.5 412h1v3h-1zM239.5 414h1v2h-1zM240.5 417h1v2h-1zM241.5 422h1v2h-1zM242.5 428h1v3h-1z"/>
<path fill="#53fc15" d="M155.5 285h1v5h-1zM155.5 299h1v6h-1zM156.5 269h1v4h-1zM156.5 318h1v3h-1zM157.5 248h1v3h-1zM157.5 329h1v4h-1zM158.5 340h1v8h-1zM159.5 355h1v6h-1zM160.5 363h1v6h-1zM161.5 366h1v13h-1zM162.5 365h1v11h-1zM163.5 360h1v7h-1zM164.5 348h1v8h-1zM165.5 333h1v5h-1zM166.5 320h1v4h-1zM167.5 300h1v8h-1zM168.5 275h1v7h-1zM169.5 256h1v4h-1zM234.5 433h1v3h-1zM235.5 424h1v2h-1zM236.5 419h1v2h-1zM237.5 416h1v2h-1zM238.5 415h1v2h-1zM239.5 416h1v2h-1zM240.5 419h1v2h-1zM241.5 424h1v2h-1zM242.5 431h1v2h-1z"/>
<path fill="#5bfc15" d="M155.5 290h1v9h-1zM156.5 273h1v5h-1zM156.5 315h1v3h-1zM157.5 251h1v6h-1zM157.5 325h1v4h-1zM158.5 336h1v4h-1zM159.5 348h1v7h-1zM160.5 357h1v6h-1zM161.5 360h1v6h-1zM162.5 359h1v6h-1zM163.5 353h1v7h-1zM164.5 340h1v8h-1zM165.5 328h1v5h-1zM166.5 317h1v3h-1zM167.5 293h1v7h-1zM168.5 269h1v6h-1zM169.5 252h1v4h-1zM234.5 436h1v1.5h-1zM235.5 426h1v3h-1zM236.5 421h1v2h-1zM237.5 418h1v2h-1zM238.5 417h1v2h-1zM239.5 418h1v2h-1zM240.5 421h1v2h-1zM241.5 426h1v2h-1zM242.5 433h1v2h-1z"/>
<path fill="#63fc16" d="M156.5 278h1v4h-1zM156.5 309h1v6h-1zM157.5 257h1v6h-1zM157.5 322h1v3h-1zM158.5 333h1v3h-1zM159.5 341h1v7h-1zM160.5 351h1v6h-1zM161.5 354h1v6h-1zM162.5 353h1v6h-1zM163.5 346h1v7h-1zM164.5 336h1v4h-1zM165.5 324h1v4h-1zM166.5 313h1v4h-1zM167.5 287h1v6h-1zM168.5 264h1v5h-1zM169.5 248h1v4h-1zM235.5 429h1v2h-1zM236.5 423h1v2h-1zM237.5 420h1v2h-1zM238.5 419h1v2h-1zM239.5 420h1v2h-1zM240.5 423h1v2h-1zM241.5 428h1v2h-1zM242.5 435h1v2h-1z"/>
<path fill="#76fb1a" d="M156.5 282h1v4h-1zM156.5 304h1v5h-1zM157.5 263h1v6h-1zM157.5 320h1v2h-1zM158.5 329h1v4h-1zM159.5 337h1v4h-1zM160.5 345h1v6h-1zM161.5 349h1v5h-1zM162.5 347h1v6h-1zM163.5 340h1v6h-1zM164.5 332h1v4h-1zM165.5 322h1v2h-1zM166.5 306h1v7h-1zM167.5 281h1v6h-1zM168.5 260h1v4h-1zM235.5 431h1v3h-1zM236.5 425h1v2h-1zM237.5 422h1v2h-1zM238.5 421h1v2h-1zM239.5 422h1v2h-1zM240.5 425h1v2h-1zM241.5 430h1v2h-1zM242.5 437h1v0.5h-1z"/>
<path fill="#8efa20" d="M156.5 286h1v5h-1zM156.5 298h1v6h-1zM157.5 269h1v4h-1zM157.5 317h1v3h-1zM158.5 248h1v4h-1zM158.5 325h1v4h-1zM159.5 334h1v3h-1zM160.5 339h1v6h-1zM161.5 343h1v6h-1zM162.5 341h1v6h-1zM163.5 337h1v3h-1zM164.5 328h1v4h-1zM165.5 319h1v3h-1zM166.5 299h1v7h-1zM167.5 275h1v6h-1zM168.5 256h1v4h-1zM235.5 434h1v2h-1zM236.5 427h1v2h-1zM237.5 424h1v2h-1zM238.5 423h1v2h-1zM239.5 424h1v2h-1zM240.5 427h1v2h-1zM241.5 432h1v2h-1z"/>
<path fill="#a8fa25" d="M156.5 291h1v7h-1zM157.5 273h1v5h-1zM157.5 315h1v2h-1zM158.5 252h1v6h-1zM158.5 323h1v2h-1zM159.5 331h1v3h-1zM160.5 336h1v3h-1zM161.5 339h1v4h-1zM162.5 338h1v3h-1zM163.5 333h1v4h-1zM164.5 325h1v3h-1zM165.5 316h1v3h-1zM166.5 293h1v6h-1zM167.5 269h1v6h-1zM168.5 251h1v5h-1zM235.5 436h1v1.5h-1zM236.5 429h1v2h-1zM237.5 426h1v2h-1zM238.5 425h1v1h-1zM239.5 426h1v1h-1zM240.5 429h1v2h-1zM241.5 434h1v2h-1z"/>
<path fill="#c1fa2a" d="M157.5 278h1v4h-1zM157.5 310h1v5h-1zM158.5 258h1v5h-1zM158.5 321h1v2h-1zM159.5 328h1v3h-1zM160.5 334h1v2h-1zM161.5 336h1v3h-1zM162.5 335h1v3h-1zM163.5 330h1v3h-1zM164.5 323h1v2h-1zM165.5 314h1v2h-1zM166.5 287h1v6h-1zM167.5 265h1v4h-1zM168.5 248h1v3h-1zM236.5 431h1v2h-1zM237.5 428h1v2h-1zM238.5 426h1v2h-1zM239.5 427h1v2h-1zM240.5 431h1v1h-1zM241.5 436h1v1.5h-1z"/>
<path fill="#d1f82d" d="M157.5 282h1v3h-1zM157.5 305h1v5h-1zM158.5 263h1v5h-1zM158.5 319h1v2h-1zM159.5 248h1v1h-1zM159.5 325h1v3h-1zM160.5 331h1v3h-1zM161.5 333h1v3h-1zM162.5 332h1v3h-1zM163.5 327h1v3h-1zM164.5 321h1v2h-1zM165.5 308h1v6h-1zM166.5 282h1v5h-1zM167.5 259h1v6h-1zM236.5 433h1v2h-1zM237.5 430h1v1h-1zM238.5 428h1v2h-1zM239.5 429h1v2h-1zM240.5 432h1v2h-1z"/>
<path fill="#e2f630" d="M157.5 285h1v4h-1zM157.5 300h1v5h-1zM158.5 268h1v5h-1zM158.5 317h1v2h-1zM159.5 249h1v5h-1zM159.5 323h1v2h-1zM160.5 328h1v3h-1zM161.5 330h1v3h-1zM162.5 329h1v3h-1zM163.5 324h1v3h-1zM164.5 319h1v2h-1zM165.5 302h1v6h-1zM166.5 276h1v6h-1zM167.5 254h1v5h-1zM236.5 435h1v2.5h-1zM237.5 431h1v2h-1zM238.5 430h1v2h-1zM239.5 431h1v1h-1zM240.5 434h1v2h-1z"/>
<path fill="#f0f132" d="M157.5 289h1v4h-1zM157.5 296h1v4h-1zM158.5 273h1v3h-1zM158.5 315h1v2h-1zM159.5 254h1v6h-1zM159.5 321h1v2h-1zM160.5 325h1v3h-1zM161.5 327h1v3h-1zM162.5 326h1v3h-1zM163.5 323h1v1h-1zM164.5 316h1v3h-1zM165.5 296h1v6h-1zM166.5 270h1v6h-1zM167.5 248h1v6h-1zM237.5 433h1v2h-1zM238.5 432h1v1h-1zM239.5 432h1v2h-1zM240.5 436h1v1h-1z"/>
<path fill="#ecdb32" d="M157.5 293h1v3h-1zM158.5 276h1v4h-1zM158.5 312h1v3h-1zM159.5 260h1v4h-1zM159.5 320h1v1h-1zM160.5 248h1v1h-1zM160.5 323h1v2h-1zM161.5 325h1v2h-1zM162.5 324h1v2h-1zM163.5 321h1v2h-1zM164.5 314h1v2h-1zM165.5 291h1v5h-1zM166.5 264h1v6h-1zM237.5 435h1v2h-1zM238.5 433h1v2h-1zM239.5 434h1v2h-1zM240.5 437h1v0.5h-1z"/>
<path fill="#eac432" d="M158.5 280h1v4h-1zM158.5 307h1v5h-1zM159.5 264h1v5h-1zM159.5 318h1v2h-1zM160.5 249h1v5h-1zM160.5 322h1v1h-1zM161.5 323h1v2h-1zM162.5 322h1v2h-1zM163.5 319h1v2h-1zM164.5 310h1v4h-1zM165.5 285h1v6h-1zM166.5 254h1v10h-1zM237.5 437h1v0.5h-1zM238.5 435h1v1h-1zM239.5 436h1v1h-1z"/>
<path fill="#e9b032" d="M158.5 284h1v3h-1zM158.5 303h1v4h-1zM159.5 269h1v3h-1zM159.5 316h1v2h-1zM160.5 254h1v5h-1zM160.5 320h1v2h-1zM161.5 322h1v1h-1zM162.5 321h1v1h-1zM163.5 317h1v2h-1zM164.5 305h1v5h-1zM165.5 278h1v7h-1zM166.5 248h1v6h-1zM238.5 436h1v1.5h-1zM239.5 437h1v0.5h-1z"/>
<path fill="#e99e30" d="M158.5 287h1v3h-1zM158.5 299h1v4h-1zM159.5 272h1v4h-1zM159.5 315h1v1h-1zM160.5 259h1v4h-1zM160.5 319h1v1h-1zM161.5 248h1v4h-1zM161.5 320h1v2h-1zM162.5 319h1v2h-1zM163.5 316h1v1h-1zM164.5 300h1v5h-1zM165.5 268h1v10h-1z"/>
<path fill="#eb8e2c" d="M158.5 290h1v3h-1zM158.5 295h1v4h-1zM159.5 276h1v3h-1zM159.5 311h1v4h-1zM160.5 263h1v4h-1zM160.5 317h1v2h-1zM161.5 252h1v5h-1zM161.5 319h1v1h-1zM162.5 248h1v2h-1zM162.5 318h1v1h-1zM163.5 314h1v2h-1zM164.5 295h1v5h-1zM165.5 248h1v20h-1z"/>
<path fill="#ee8029" d="M158.5 293h1v2h-1zM159.5 279h1v4h-1zM159.5 308h1v3h-1zM160.5 267h1v4h-1zM160.5 316h1v1h-1zM161.5 257h1v4h-1zM161.5 317h1v2h-1zM162.5 250h1v5h-1zM162.5 316h1v2h-1zM163.5 248h1v4h-1zM163.5 309h1v5h-1zM164.5 248h1v7h-1zM164.5 288h1v7h-1z"/>
<path fill="#f07025" d="M159.5 283h1v3h-1zM159.5 304h1v4h-1zM160.5 271h1v3h-1zM160.5 314h1v2h-1zM161.5 261h1v4h-1zM161.5 316h1v1h-1zM162.5 255h1v4h-1zM162.5 315h1v1h-1zM163.5 252h1v6h-1zM163.5 305h1v4h-1zM164.5 255h1v33h-1z"/>
<path fill="#f36022" d="M159.5 286h1v3h-1zM159.5 300h1v4h-1zM160.5 274h1v4h-1zM160.5 311h1v3h-1zM161.5 265h1v4h-1zM161.5 314h1v2h-1zM162.5 259h1v5h-1zM162.5 312h1v3h-1zM163.5 258h1v6h-1zM163.5 301h1v4h-1z"/>
<path fill="#f5501e" d="M159.5 289h1v3h-1zM159.5 296h1v4h-1zM160.5 278h1v3h-1zM160.5 308h1v3h-1zM161.5 269h1v4h-1zM161.5 312h1v2h-1zM162.5 264h1v5h-1zM162.5 308h1v4h-1zM163.5 264h1v7h-1zM163.5 297h1v4h-1z"/>
<path fill="#f7411b" d="M159.5 292h1v4h-1zM160.5 281h1v3h-1zM160.5 304h1v4h-1zM161.5 273h1v4h-1zM161.5 308h1v4h-1zM162.5 269h1v4h-1zM162.5 305h1v3h-1zM163.5 271h1v26h-1z"/>
<path fill="#f83217" d="M160.5 284h1v4h-1zM160.5 300h1v4h-1zM161.5 277h1v4h-1zM161.5 305h1v3h-1zM162.5 273h1v6h-1zM162.5 301h1v4h-1z"/>
<path fill="#fa2314" d="M160.5 288h1v3h-1zM160.5 297h1v3h-1zM161.5 281h1v4h-1zM161.5 301h1v4h-1zM162.5 279h1v6h-1zM162.5 297h1v4h-1z"/>
<path fill="#fa2314" d="M160.5 291h1v6h-1zM161.5 285h1v4h-1zM161.5 298h1v3h-1zM162.5 285h1v12h-1z"/>
<path fill="#fa2214" d="M161.5 289h1v9h-1z"/>
</g>
<rect x="56" y="248" width="65.5" height="189.5" fill="#6eecfc"/>
<polygon fill="#5ccafd" points="56,248 121.5,248 121.5,328.6 108,327.5 96.5,326 80,327.3 68,329 56,329.7"/>
<polygon fill="#52b4fb" points="56,248 121.5,248 121.5,291.8 112,290.6 105.1,289.2 101,286 96.5,284.9 88,286.5 80.6,288 74,292 68.3,294.7 62,293.5 56,292.9"/>
<polygon fill="#4ea2f7" points="56,248 121.5,248 121.5,266 110,263.5 105.1,261 103,258.5 100,255.5 96.5,253.6 92,255 86,256.5 80.6,257.9 78,260 74,265 68.3,267.7 62,266.5 56,265.9"/>
<rect x="121.5" y="247" width="3" height="191" fill="#fff"/>
<g stroke="#555" stroke-width="1" fill="none">
<path d="M56 248H253.8V437.5H56Z"/>
<line x1="53.2" y1="420" x2="56" y2="420"/>
<line x1="54.4" y1="398.5" x2="56" y2="398.5"/>
<line x1="53.2" y1="377.1" x2="56" y2="377.1"/>
<line x1="54.4" y1="355.6" x2="56" y2="355.6"/>
<line x1="53.2" y1="334.1" x2="56" y2="334.1"/>
<line x1="54.4" y1="312.7" x2="56" y2="312.7"/>
<line x1="53.2" y1="291.2" x2="56" y2="291.2"/>
<line x1="54.4" y1="269.8" x2="56" y2="269.8"/>
<line x1="53.2" y1="248.3" x2="56" y2="248.3"/>
<line x1="56" y1="437.5" x2="56" y2="439.6"/>
<line x1="78" y1="437.5" x2="78" y2="440.8"/>
<line x1="99.5" y1="437.5" x2="99.5" y2="439.6"/>
<line x1="145.2" y1="437.5" x2="145.2" y2="439.6"/>
<line x1="166.8" y1="437.5" x2="166.8" y2="440.8"/>
<line x1="188.5" y1="437.5" x2="188.5" y2="439.6"/>
<line x1="210.2" y1="437.5" x2="210.2" y2="440.8"/>
<line x1="232" y1="437.5" x2="232" y2="439.6"/>
<line x1="253.5" y1="437.5" x2="253.5" y2="440.8"/>
</g>
<rect x="119.8" y="436.6" width="5.4" height="2" fill="#fff"/>
<g stroke="#333" stroke-width="0.9"><line x1="119.3" y1="440.8" x2="123.4" y2="433.9"/><line x1="122.4" y1="440.8" x2="126.6" y2="433.9"/></g>
<text x="49.6" y="424.3" font-size="12" font-weight="bold" text-anchor="end" textLength="13.4" lengthAdjust="spacingAndGlyphs">50</text>
<text x="49.6" y="381.4" font-size="12" font-weight="bold" text-anchor="end" textLength="20.1" lengthAdjust="spacingAndGlyphs">100</text>
<text x="49.6" y="338.4" font-size="12" font-weight="bold" text-anchor="end" textLength="20.1" lengthAdjust="spacingAndGlyphs">150</text>
<text x="49.6" y="295.5" font-size="12" font-weight="bold" text-anchor="end" textLength="20.1" lengthAdjust="spacingAndGlyphs">200</text>
<text x="49.6" y="252.6" font-size="12" font-weight="bold" text-anchor="end" textLength="20.1" lengthAdjust="spacingAndGlyphs">250</text>
<text x="78.5" y="452.2" font-size="12" font-weight="bold" text-anchor="middle" textLength="26.5" lengthAdjust="spacingAndGlyphs">2400</text>
<text x="166.8" y="452.2" font-size="12" font-weight="bold" text-anchor="middle" textLength="26.5" lengthAdjust="spacingAndGlyphs">1600</text>
<text x="210.4" y="452.2" font-size="12" font-weight="bold" text-anchor="middle" textLength="26.5" lengthAdjust="spacingAndGlyphs">1400</text>
<text x="253.6" y="452.2" font-size="12" font-weight="bold" text-anchor="middle" textLength="26.5" lengthAdjust="spacingAndGlyphs">1200</text>
<text x="176.5" y="464.3" font-size="12" text-anchor="middle" fill="#111" textLength="110" lengthAdjust="spacingAndGlyphs">Wavenumber (cm<tspan font-size="7.5" dy="-4.5">-1</tspan><tspan dy="4.5">)</tspan></text>
<text x="0" y="0" font-size="12" text-anchor="middle" fill="#111" textLength="99" lengthAdjust="spacingAndGlyphs" transform="translate(26.8 343.6) rotate(-90)">Temperature (<tspan font-size="8" dy="-3.5">o</tspan><tspan dy="3.5">C)</tspan></text>
<text x="77.8" y="342.2" font-size="11.5" font-weight="bold" textLength="22.4" lengthAdjust="spacingAndGlyphs">CO<tspan font-size="8" dy="3">2</tspan></text>
<text x="59" y="431.6" font-size="12" font-weight="bold" textLength="50" lengthAdjust="spacingAndGlyphs">Pt<tspan font-size="8.5" dy="3">e</tspan><tspan dy="-3">-300A</tspan></text>
<text x="0" y="0" font-size="11.5" text-anchor="middle" font-weight="bold" textLength="41.5" lengthAdjust="spacingAndGlyphs" transform="translate(206.9 368.2) rotate(-90)">acetate</text>
<text x="0" y="0" font-size="11.5" text-anchor="middle" font-weight="bold" textLength="47" lengthAdjust="spacingAndGlyphs" transform="translate(241.2 375.9) rotate(-90)">acrylate</text>
<line x1="190.3" y1="330" x2="199" y2="342.9" stroke="#000" stroke-width="1.0"/>
<polygon points="201.2,346.2 196.6,343.3 200.2,340.8" fill="#000"/>
<line x1="215" y1="318" x2="204.2" y2="342.5" stroke="#000" stroke-width="1.0"/>
<polygon points="202.6,346.2 202.6,340.7 206.6,342.5" fill="#000"/>
<line x1="236.6" y1="317" x2="236.6" y2="346" stroke="#000" stroke-width="1.0"/>
<polygon points="236.6,350 234.4,345 238.8,345" fill="#000"/>
<g shape-rendering="crispEdges">
<rect x="259" y="432.4" width="15.2" height="5.3" fill="#6ceafc"/>
<rect x="259" y="427.6" width="15.2" height="5.3" fill="#7cf8fc"/>
<rect x="259" y="422.9" width="15.2" height="5.3" fill="#7af8f3"/>
<rect x="259" y="418.2" width="15.2" height="5.3" fill="#75f6e0"/>
<rect x="259" y="413.4" width="15.2" height="5.3" fill="#6df3c7"/>
<rect x="259" y="408.7" width="15.2" height="5.3" fill="#67f2b2"/>
<rect x="259" y="404" width="15.2" height="5.3" fill="#62f19d"/>
<rect x="259" y="399.2" width="15.2" height="5.3" fill="#5cf189"/>
<rect x="259" y="394.5" width="15.2" height="5.3" fill="#57f175"/>
<rect x="259" y="389.7" width="15.2" height="5.3" fill="#51f25f"/>
<rect x="259" y="385" width="15.2" height="5.3" fill="#4bf349"/>
<rect x="259" y="380.3" width="15.2" height="5.3" fill="#47f537"/>
<rect x="259" y="375.5" width="15.2" height="5.3" fill="#44f828"/>
<rect x="259" y="370.8" width="15.2" height="5.3" fill="#42fa1c"/>
<rect x="259" y="366.1" width="15.2" height="5.3" fill="#46fb19"/>
<rect x="259" y="361.3" width="15.2" height="5.3" fill="#48fb17"/>
<rect x="259" y="356.6" width="15.2" height="5.3" fill="#4cfc14"/>
<rect x="259" y="351.9" width="15.2" height="5.3" fill="#53fc15"/>
<rect x="259" y="347.1" width="15.2" height="5.3" fill="#5bfc15"/>
<rect x="259" y="342.4" width="15.2" height="5.3" fill="#63fc16"/>
<rect x="259" y="337.7" width="15.2" height="5.3" fill="#76fb1a"/>
<rect x="259" y="332.9" width="15.2" height="5.3" fill="#8efa20"/>
<rect x="259" y="328.2" width="15.2" height="5.3" fill="#a8fa25"/>
<rect x="259" y="323.5" width="15.2" height="5.3" fill="#c1fa2a"/>
<rect x="259" y="318.7" width="15.2" height="5.3" fill="#d1f82d"/>
<rect x="259" y="314" width="15.2" height="5.3" fill="#e2f630"/>
<rect x="259" y="309.3" width="15.2" height="5.3" fill="#f0f132"/>
<rect x="259" y="304.5" width="15.2" height="5.3" fill="#ecdb32"/>
<rect x="259" y="299.8" width="15.2" height="5.3" fill="#eac432"/>
<rect x="259" y="295" width="15.2" height="5.3" fill="#e9b032"/>
<rect x="259" y="290.3" width="15.2" height="5.3" fill="#e99e30"/>
<rect x="259" y="285.6" width="15.2" height="5.3" fill="#eb8e2c"/>
<rect x="259" y="280.8" width="15.2" height="5.3" fill="#ee8029"/>
<rect x="259" y="276.1" width="15.2" height="5.3" fill="#f07025"/>
<rect x="259" y="271.4" width="15.2" height="5.3" fill="#f36022"/>
<rect x="259" y="266.6" width="15.2" height="5.3" fill="#f5501e"/>
<rect x="259" y="261.9" width="15.2" height="5.3" fill="#f7411b"/>
<rect x="259" y="257.2" width="15.2" height="5.3" fill="#f83217"/>
<rect x="259" y="252.4" width="15.2" height="5.3" fill="#fa2314"/>
<rect x="259" y="247.7" width="15.2" height="5.3" fill="#fa2314"/>
</g>
<rect x="259" y="432.5" width="15.2" height="4.9" fill="#6ee2fa"/>
<text x="277.4" y="438.8" font-size="11" fill="#222" textLength="21.5" lengthAdjust="spacingAndGlyphs">0.00</text>
<text x="277.4" y="392.3" font-size="11" fill="#222" textLength="21.5" lengthAdjust="spacingAndGlyphs">0.06</text>
<text x="277.4" y="345.8" font-size="11" fill="#222" textLength="21.5" lengthAdjust="spacingAndGlyphs">0.12</text>
<text x="277.4" y="299.3" font-size="11" fill="#222" textLength="21.5" lengthAdjust="spacingAndGlyphs">0.18</text>
<text x="277.4" y="252.8" font-size="11" fill="#222" textLength="21.5" lengthAdjust="spacingAndGlyphs">0.24</text>
<text x="0" y="0" font-size="12" text-anchor="middle" fill="#111" textLength="80" lengthAdjust="spacingAndGlyphs" transform="translate(270.9 341.5) rotate(-90)">Kubelka-Munk</text>
<text x="301" y="36.7" font-size="29" font-weight="bold">c</text>
<text x="300.5" y="266.5" font-size="29" font-weight="bold">d</text>
<rect x="361.5" y="8.5" width="138" height="192.4" fill="none" stroke="#555" stroke-width="1"/>
<g stroke="#555" stroke-width="1">
<line x1="357.6" y1="200.9" x2="361.5" y2="200.9"/>
<line x1="359" y1="187.2" x2="361.5" y2="187.2"/>
<line x1="357.6" y1="173.4" x2="361.5" y2="173.4"/>
<line x1="359" y1="159.7" x2="361.5" y2="159.7"/>
<line x1="357.6" y1="145.9" x2="361.5" y2="145.9"/>
<line x1="359" y1="132.2" x2="361.5" y2="132.2"/>
<line x1="357.6" y1="118.4" x2="361.5" y2="118.4"/>
<line x1="359" y1="104.7" x2="361.5" y2="104.7"/>
<line x1="357.6" y1="91" x2="361.5" y2="91"/>
<line x1="359" y1="77.2" x2="361.5" y2="77.2"/>
<line x1="357.6" y1="63.5" x2="361.5" y2="63.5"/>
<line x1="359" y1="49.7" x2="361.5" y2="49.7"/>
<line x1="357.6" y1="36" x2="361.5" y2="36"/>
<line x1="359" y1="22.2" x2="361.5" y2="22.2"/>
<line x1="357.6" y1="8.5" x2="361.5" y2="8.5"/>
<line x1="361.2" y1="200.9" x2="361.2" y2="204.2"/>
<line x1="375" y1="200.9" x2="375" y2="203"/>
<line x1="388.8" y1="200.9" x2="388.8" y2="204.2"/>
<line x1="402.6" y1="200.9" x2="402.6" y2="203"/>
<line x1="416.4" y1="200.9" x2="416.4" y2="204.2"/>
<line x1="430.2" y1="200.9" x2="430.2" y2="203"/>
<line x1="444" y1="200.9" x2="444" y2="204.2"/>
<line x1="457.8" y1="200.9" x2="457.8" y2="203"/>
<line x1="471.6" y1="200.9" x2="471.6" y2="204.2"/>
<line x1="485.4" y1="200.9" x2="485.4" y2="203"/>
<line x1="499.2" y1="200.9" x2="499.2" y2="204.2"/>
</g>
<text x="357.2" y="204.8" font-size="10" font-weight="bold" text-anchor="end" textLength="5.4" lengthAdjust="spacingAndGlyphs">0</text>
<text x="357.2" y="177.3" font-size="10" font-weight="bold" text-anchor="end" textLength="10.6" lengthAdjust="spacingAndGlyphs">10</text>
<text x="357.2" y="149.8" font-size="10" font-weight="bold" text-anchor="end" textLength="10.6" lengthAdjust="spacingAndGlyphs">20</text>
<text x="357.2" y="122.3" font-size="10" font-weight="bold" text-anchor="end" textLength="10.6" lengthAdjust="spacingAndGlyphs">30</text>
<text x="357.2" y="94.9" font-size="10" font-weight="bold" text-anchor="end" textLength="10.6" lengthAdjust="spacingAndGlyphs">40</text>
<text x="357.2" y="67.4" font-size="10" font-weight="bold" text-anchor="end" textLength="10.6" lengthAdjust="spacingAndGlyphs">50</text>
<text x="357.2" y="39.9" font-size="10" font-weight="bold" text-anchor="end" textLength="10.6" lengthAdjust="spacingAndGlyphs">60</text>
<text x="357.2" y="12.4" font-size="10" font-weight="bold" text-anchor="end" textLength="10.6" lengthAdjust="spacingAndGlyphs">70</text>
<text x="361.2" y="213.8" font-size="10" font-weight="bold" text-anchor="middle" textLength="5.5" lengthAdjust="spacingAndGlyphs">0</text>
<text x="388.8" y="213.8" font-size="10" font-weight="bold" text-anchor="middle" textLength="11" lengthAdjust="spacingAndGlyphs">50</text>
<text x="416.4" y="213.8" font-size="10" font-weight="bold" text-anchor="middle" textLength="16.5" lengthAdjust="spacingAndGlyphs">100</text>
<text x="444" y="213.8" font-size="10" font-weight="bold" text-anchor="middle" textLength="16.5" lengthAdjust="spacingAndGlyphs">150</text>
<text x="471.6" y="213.8" font-size="10" font-weight="bold" text-anchor="middle" textLength="16.5" lengthAdjust="spacingAndGlyphs">200</text>
<text x="499.2" y="213.8" font-size="10" font-weight="bold" text-anchor="middle" textLength="16.5" lengthAdjust="spacingAndGlyphs">250</text>
<text x="430" y="223.9" font-size="10.5" text-anchor="middle" fill="#111" textLength="88" lengthAdjust="spacingAndGlyphs">C<tspan font-size="7.5" dy="2.5">3</tspan><tspan dy="-2.5">H</tspan><tspan font-size="7.5" dy="2.5">6</tspan><tspan dy="-2.5"> pressure (Pa)</tspan></text>
<text x="433.5" y="19.8" font-size="11" font-weight="bold" text-anchor="middle" textLength="40.7" lengthAdjust="spacingAndGlyphs">O<tspan font-size="7.5" dy="2.5">2</tspan><tspan dy="-2.5"> (kPa)</tspan></text>
<text x="0" y="0" font-size="10.5" text-anchor="middle" fill="#111" textLength="203.5" lengthAdjust="spacingAndGlyphs" transform="translate(339.9 107) rotate(-90)">C<tspan font-size="7.5" dy="2.5">3</tspan><tspan dy="-2.5">H</tspan><tspan font-size="7.5" dy="2.5">6</tspan><tspan dy="-2.5"> consumption rate (mmol</tspan><tspan font-size="6" dy="2.5">C3H6</tspan><tspan dy="-2.5"> mol</tspan><tspan font-size="6" dy="2.5">Pt</tspan><tspan font-size="5" dy="-2">0</tspan><tspan font-size="6.5" dy="-3">-1</tspan><tspan dy="3.5">s</tspan><tspan font-size="6.5" dy="-3.5">-1</tspan><tspan dy="3.5">)</tspan></text>
<g fill="none" stroke="#222" stroke-width="0.8" stroke-dasharray="2.4 0.8">
<path d="M385.7 92C387.9 87.4 394.3 72 398.8 64.5C403.3 57 408.7 50.9 412.6 46.8C416.6 42.6 419.1 41.6 422.5 39.6C425.9 37.6 429.6 36 433.2 34.6C436.8 33.2 440.7 32.4 444.3 31.5C447.9 30.6 451.4 30 455 29.5C458.6 29 464.3 28.6 466.2 28.4"/>
<path d="M386.5 96.6C388.7 92.6 394.9 79.5 399.5 72.9C404.1 66.3 410.1 60.3 414.1 56.8C418.1 53.3 420.2 53.3 423.7 51.9C427.2 50.5 431.3 49.3 435.1 48.4C438.9 47.5 442.7 46.7 446.3 46.4C449.9 46.1 453.4 46.2 457 46.4C460.6 46.5 465.9 47.1 467.7 47.3"/>
<path d="M386.5 102C388.7 98.5 395.2 86.8 399.8 81C404.4 75.2 410.1 70.6 414.1 67.5C418.1 64.4 420.5 63.8 424 62.6C427.5 61.5 431.4 61 435.1 60.6C438.8 60.2 442.7 60.2 446.3 60.2C449.9 60.2 453.4 60.3 457 60.6C460.6 60.9 466.3 61.9 468.2 62.2"/>
</g>
<polygon points="385.7,87.9 381.9,94.5 389.5,94.5" fill="none" stroke="#5a5a5a" stroke-width="0.9"/>
<polygon points="398.8,60.4 395,67 402.6,67" fill="none" stroke="#5a5a5a" stroke-width="0.9"/>
<polygon points="412.6,42.7 408.8,49.3 416.4,49.3" fill="none" stroke="#5a5a5a" stroke-width="0.9"/>
<polygon points="422.5,35.5 418.7,42.1 426.3,42.1" fill="none" stroke="#5a5a5a" stroke-width="0.9"/>
<polygon points="433.2,30.5 429.4,37.1 437,37.1" fill="none" stroke="#5a5a5a" stroke-width="0.9"/>
<polygon points="444.3,27.4 440.5,34 448.1,34" fill="none" stroke="#5a5a5a" stroke-width="0.9"/>
<polygon points="455,25.4 451.2,32 458.8,32" fill="none" stroke="#5a5a5a" stroke-width="0.9"/>
<polygon points="466.2,24.3 462.4,30.9 470,30.9" fill="none" stroke="#5a5a5a" stroke-width="0.9"/>
<circle cx="386.5" cy="96.6" r="3.6" fill="none" stroke="#5a5a5a" stroke-width="0.9"/>
<circle cx="399.5" cy="72.9" r="3.6" fill="none" stroke="#5a5a5a" stroke-width="0.9"/>
<circle cx="414.1" cy="56.8" r="3.6" fill="none" stroke="#5a5a5a" stroke-width="0.9"/>
<circle cx="423.7" cy="51.9" r="3.6" fill="none" stroke="#5a5a5a" stroke-width="0.9"/>
<circle cx="435.1" cy="48.4" r="3.6" fill="none" stroke="#5a5a5a" stroke-width="0.9"/>
<circle cx="446.3" cy="46.4" r="3.6" fill="none" stroke="#5a5a5a" stroke-width="0.9"/>
<circle cx="457" cy="46.4" r="3.6" fill="none" stroke="#5a5a5a" stroke-width="0.9"/>
<circle cx="467.7" cy="47.3" r="3.6" fill="none" stroke="#5a5a5a" stroke-width="0.9"/>
<rect x="383.2" y="98.7" width="6.6" height="6.6" fill="none" stroke="#777" stroke-width="0.9"/>
<rect x="396.5" y="77.7" width="6.6" height="6.6" fill="none" stroke="#777" stroke-width="0.9"/>
<rect x="410.8" y="64.2" width="6.6" height="6.6" fill="none" stroke="#777" stroke-width="0.9"/>
<rect x="420.7" y="59.3" width="6.6" height="6.6" fill="none" stroke="#777" stroke-width="0.9"/>
<rect x="431.8" y="57.3" width="6.6" height="6.6" fill="none" stroke="#777" stroke-width="0.9"/>
<rect x="443" y="56.9" width="6.6" height="6.6" fill="none" stroke="#777" stroke-width="0.9"/>
<rect x="453.7" y="57.3" width="6.6" height="6.6" fill="none" stroke="#777" stroke-width="0.9"/>
<rect x="464.9" y="58.9" width="6.6" height="6.6" fill="none" stroke="#777" stroke-width="0.9"/>
<polygon points="438.8,161.3 435,167.9 442.6,167.9" fill="none" stroke="#5a5a5a" stroke-width="0.9"/>
<circle cx="438.8" cy="178.3" r="3.6" fill="none" stroke="#5a5a5a" stroke-width="0.9"/>
<rect x="435.5" y="187.7" width="6.6" height="6.6" fill="none" stroke="#777" stroke-width="0.9"/>
<text x="453.5" y="169.2" font-size="11" fill="#111" textLength="40.5" lengthAdjust="spacingAndGlyphs">12.6 kPa</text>
<text x="453.5" y="182.1" font-size="11" fill="#111" textLength="40.5" lengthAdjust="spacingAndGlyphs">10.1 kPa</text>
<text x="453.5" y="194.9" font-size="11" fill="#111" textLength="34.7" lengthAdjust="spacingAndGlyphs">7.6 kPa</text>
<rect x="539.5" y="8.8" width="137.3" height="192.5" fill="none" stroke="#555" stroke-width="1"/>
<g stroke="#555" stroke-width="1">
<line x1="536" y1="201.3" x2="539.5" y2="201.3"/>
<line x1="537.4" y1="187.6" x2="539.5" y2="187.6"/>
<line x1="536" y1="173.8" x2="539.5" y2="173.8"/>
<line x1="537.4" y1="160.1" x2="539.5" y2="160.1"/>
<line x1="536" y1="146.3" x2="539.5" y2="146.3"/>
<line x1="537.4" y1="132.6" x2="539.5" y2="132.6"/>
<line x1="536" y1="118.8" x2="539.5" y2="118.8"/>
<line x1="537.4" y1="105.1" x2="539.5" y2="105.1"/>
<line x1="536" y1="91.3" x2="539.5" y2="91.3"/>
<line x1="537.4" y1="77.6" x2="539.5" y2="77.6"/>
<line x1="536" y1="63.8" x2="539.5" y2="63.8"/>
<line x1="537.4" y1="50.1" x2="539.5" y2="50.1"/>
<line x1="536" y1="36.3" x2="539.5" y2="36.3"/>
<line x1="537.4" y1="22.6" x2="539.5" y2="22.6"/>
<line x1="536" y1="8.8" x2="539.5" y2="8.8"/>
<line x1="539.5" y1="201.3" x2="539.5" y2="204.6"/>
<line x1="562.3" y1="201.3" x2="562.3" y2="204.6"/>
<line x1="585.1" y1="201.3" x2="585.1" y2="204.6"/>
<line x1="607.9" y1="201.3" x2="607.9" y2="204.6"/>
<line x1="630.7" y1="201.3" x2="630.7" y2="204.6"/>
<line x1="653.5" y1="201.3" x2="653.5" y2="204.6"/>
<line x1="676.3" y1="201.3" x2="676.3" y2="204.6"/>
<line x1="550.9" y1="201.3" x2="550.9" y2="203.3"/>
<line x1="573.7" y1="201.3" x2="573.7" y2="203.3"/>
<line x1="596.5" y1="201.3" x2="596.5" y2="203.3"/>
<line x1="619.3" y1="201.3" x2="619.3" y2="203.3"/>
<line x1="642.1" y1="201.3" x2="642.1" y2="203.3"/>
<line x1="664.9" y1="201.3" x2="664.9" y2="203.3"/>
</g>
<text x="535.8" y="205.2" font-size="10" font-weight="bold" text-anchor="end" textLength="5.4" lengthAdjust="spacingAndGlyphs">0</text>
<text x="535.8" y="177.7" font-size="10" font-weight="bold" text-anchor="end" textLength="10.6" lengthAdjust="spacingAndGlyphs">10</text>
<text x="535.8" y="150.2" font-size="10" font-weight="bold" text-anchor="end" textLength="10.6" lengthAdjust="spacingAndGlyphs">20</text>
<text x="535.8" y="122.7" font-size="10" font-weight="bold" text-anchor="end" textLength="10.6" lengthAdjust="spacingAndGlyphs">30</text>
<text x="535.8" y="95.2" font-size="10" font-weight="bold" text-anchor="end" textLength="10.6" lengthAdjust="spacingAndGlyphs">40</text>
<text x="535.8" y="67.7" font-size="10" font-weight="bold" text-anchor="end" textLength="10.6" lengthAdjust="spacingAndGlyphs">50</text>
<text x="535.8" y="40.2" font-size="10" font-weight="bold" text-anchor="end" textLength="10.6" lengthAdjust="spacingAndGlyphs">60</text>
<text x="535.8" y="12.7" font-size="10" font-weight="bold" text-anchor="end" textLength="10.6" lengthAdjust="spacingAndGlyphs">70</text>
<text x="539.5" y="213.8" font-size="10" font-weight="bold" text-anchor="middle" textLength="5.5" lengthAdjust="spacingAndGlyphs">0</text>
<text x="562.3" y="213.8" font-size="10" font-weight="bold" text-anchor="middle" textLength="5.5" lengthAdjust="spacingAndGlyphs">3</text>
<text x="585.1" y="213.8" font-size="10" font-weight="bold" text-anchor="middle" textLength="5.5" lengthAdjust="spacingAndGlyphs">6</text>
<text x="607.9" y="213.8" font-size="10" font-weight="bold" text-anchor="middle" textLength="5.5" lengthAdjust="spacingAndGlyphs">9</text>
<text x="630.7" y="213.8" font-size="10" font-weight="bold" text-anchor="middle" textLength="11" lengthAdjust="spacingAndGlyphs">12</text>
<text x="653.5" y="213.8" font-size="10" font-weight="bold" text-anchor="middle" textLength="11" lengthAdjust="spacingAndGlyphs">15</text>
<text x="676.3" y="213.8" font-size="10" font-weight="bold" text-anchor="middle" textLength="11" lengthAdjust="spacingAndGlyphs">18</text>
<text x="608.6" y="225" font-size="10.5" text-anchor="middle" fill="#111" textLength="83.4" lengthAdjust="spacingAndGlyphs">O<tspan font-size="7.5" dy="2.5">2</tspan><tspan dy="-2.5"> pressure (kPa)</tspan></text>
<text x="610.7" y="20.3" font-size="11" font-weight="bold" text-anchor="middle" textLength="45.9" lengthAdjust="spacingAndGlyphs">C<tspan font-size="7.5" dy="2.5">3</tspan><tspan dy="-2.5">H</tspan><tspan font-size="7.5" dy="2.5">6</tspan><tspan dy="-2.5"> (Pa)</tspan></text>
<text x="0" y="0" font-size="10.5" text-anchor="middle" fill="#111" textLength="204" lengthAdjust="spacingAndGlyphs" transform="translate(519.5 109.4) rotate(-90)">C<tspan font-size="7.5" dy="2.5">3</tspan><tspan dy="-2.5">H</tspan><tspan font-size="7.5" dy="2.5">6</tspan><tspan dy="-2.5"> consumption rate (mmol</tspan><tspan font-size="6" dy="2.5">C3H6</tspan><tspan dy="-2.5"> mol</tspan><tspan font-size="6" dy="2.5">Pt</tspan><tspan font-size="5" dy="-2">0</tspan><tspan font-size="6.5" dy="-3">-1</tspan><tspan dy="3.5">s</tspan><tspan font-size="6.5" dy="-3.5">-1</tspan><tspan dy="3.5">)</tspan></text>
<g fill="none" stroke="#222" stroke-width="0.8" stroke-dasharray="2.4 0.8">
<path d="M558.1 104.8C559.8 102.1 564.8 93.4 568.1 88.8C571.4 84.2 572.9 81.7 577.7 77.1C582.5 72.5 590.6 65.6 597 61.1C603.4 56.6 609.9 53.5 616.3 50.2C622.7 46.9 629.2 44.1 635.6 41.5C642 38.9 651.7 35.9 654.9 34.8"/>
<path d="M558.1 107.3C559.8 104.8 564.8 96.8 568.1 92.5C571.4 88.2 572.9 85.6 577.7 81.3C582.5 77 590.6 70.8 597 66.7C603.4 62.6 609.9 59.5 616.3 56.6C622.7 53.7 629.2 51.6 635.6 49.4C642 47.2 651.7 44.5 654.9 43.5"/>
<path d="M558.1 113.5C559.8 111.6 564.8 105.3 568.1 101.9C571.4 98.5 572.9 96.5 577.7 93C582.5 89.5 590.6 84.1 597 80.8C603.4 77.5 609.9 75.2 616.3 72.9C622.7 70.6 629.2 68.7 635.6 67C642 65.3 651.7 63.5 654.9 62.8"/>
</g>
<polygon points="558.1,100.7 554.3,107.3 561.9,107.3" fill="none" stroke="#5a5a5a" stroke-width="0.9"/>
<polygon points="568.1,84.7 564.3,91.3 571.9,91.3" fill="none" stroke="#5a5a5a" stroke-width="0.9"/>
<polygon points="577.7,73 573.9,79.6 581.5,79.6" fill="none" stroke="#5a5a5a" stroke-width="0.9"/>
<polygon points="597,57 593.2,63.6 600.8,63.6" fill="none" stroke="#5a5a5a" stroke-width="0.9"/>
<polygon points="616.3,46.1 612.5,52.7 620.1,52.7" fill="none" stroke="#5a5a5a" stroke-width="0.9"/>
<polygon points="635.6,37.4 631.8,44 639.4,44" fill="none" stroke="#5a5a5a" stroke-width="0.9"/>
<polygon points="654.9,30.7 651.1,37.3 658.7,37.3" fill="none" stroke="#5a5a5a" stroke-width="0.9"/>
<circle cx="558.1" cy="107.3" r="3.6" fill="none" stroke="#5a5a5a" stroke-width="0.9"/>
<circle cx="568.1" cy="92.5" r="3.6" fill="none" stroke="#5a5a5a" stroke-width="0.9"/>
<circle cx="577.7" cy="81.3" r="3.6" fill="none" stroke="#5a5a5a" stroke-width="0.9"/>
<circle cx="597" cy="66.7" r="3.6" fill="none" stroke="#5a5a5a" stroke-width="0.9"/>
<circle cx="616.3" cy="56.6" r="3.6" fill="none" stroke="#5a5a5a" stroke-width="0.9"/>
<circle cx="635.6" cy="49.4" r="3.6" fill="none" stroke="#5a5a5a" stroke-width="0.9"/>
<circle cx="654.9" cy="43.5" r="3.6" fill="none" stroke="#5a5a5a" stroke-width="0.9"/>
<rect x="554.8" y="110.2" width="6.6" height="6.6" fill="none" stroke="#777" stroke-width="0.9"/>
<rect x="564.8" y="98.6" width="6.6" height="6.6" fill="none" stroke="#777" stroke-width="0.9"/>
<rect x="574.4" y="89.7" width="6.6" height="6.6" fill="none" stroke="#777" stroke-width="0.9"/>
<rect x="593.7" y="77.5" width="6.6" height="6.6" fill="none" stroke="#777" stroke-width="0.9"/>
<rect x="613" y="69.6" width="6.6" height="6.6" fill="none" stroke="#777" stroke-width="0.9"/>
<rect x="632.3" y="63.7" width="6.6" height="6.6" fill="none" stroke="#777" stroke-width="0.9"/>
<rect x="651.6" y="59.5" width="6.6" height="6.6" fill="none" stroke="#777" stroke-width="0.9"/>
<polygon points="618,162.8 614.2,169.4 621.8,169.4" fill="none" stroke="#5a5a5a" stroke-width="0.9"/>
<circle cx="618" cy="179.7" r="3.6" fill="none" stroke="#5a5a5a" stroke-width="0.9"/>
<rect x="614.7" y="189.1" width="6.6" height="6.6" fill="none" stroke="#777" stroke-width="0.9"/>
<text x="632.9" y="170.7" font-size="11" fill="#111" textLength="41.3" lengthAdjust="spacingAndGlyphs">113.4 Pa</text>
<text x="632.9" y="183.5" font-size="11" fill="#111" textLength="36" lengthAdjust="spacingAndGlyphs">95.5 Pa</text>
<text x="632.9" y="196.3" font-size="11" fill="#111" textLength="36" lengthAdjust="spacingAndGlyphs">69.8 Pa</text>
<rect x="357.5" y="246.8" width="137" height="192" fill="none" stroke="#888" stroke-width="1.2"/>
<g stroke="#888" stroke-width="1">
<line x1="354.4" y1="438.8" x2="357.5" y2="438.8"/>
<line x1="356" y1="422.8" x2="357.5" y2="422.8"/>
<line x1="354.4" y1="406.8" x2="357.5" y2="406.8"/>
<line x1="356" y1="390.8" x2="357.5" y2="390.8"/>
<line x1="354.4" y1="374.8" x2="357.5" y2="374.8"/>
<line x1="356" y1="358.8" x2="357.5" y2="358.8"/>
<line x1="354.4" y1="342.8" x2="357.5" y2="342.8"/>
<line x1="356" y1="326.8" x2="357.5" y2="326.8"/>
<line x1="354.4" y1="310.8" x2="357.5" y2="310.8"/>
<line x1="356" y1="294.8" x2="357.5" y2="294.8"/>
<line x1="354.4" y1="278.8" x2="357.5" y2="278.8"/>
<line x1="356" y1="262.8" x2="357.5" y2="262.8"/>
<line x1="354.4" y1="246.8" x2="357.5" y2="246.8"/>
<line x1="357.8" y1="438.8" x2="357.8" y2="442"/>
<line x1="374.9" y1="438.8" x2="374.9" y2="440.8"/>
<line x1="391.9" y1="438.8" x2="391.9" y2="442"/>
<line x1="409" y1="438.8" x2="409" y2="440.8"/>
<line x1="426.1" y1="438.8" x2="426.1" y2="442"/>
<line x1="443.1" y1="438.8" x2="443.1" y2="440.8"/>
<line x1="460.2" y1="438.8" x2="460.2" y2="442"/>
<line x1="477.2" y1="438.8" x2="477.2" y2="440.8"/>
<line x1="494.3" y1="438.8" x2="494.3" y2="442"/>
</g>
<text x="353" y="442.5" font-size="10" font-weight="bold" text-anchor="end" textLength="5.3" lengthAdjust="spacingAndGlyphs">0</text>
<text x="353" y="410.5" font-size="10" font-weight="bold" text-anchor="end" textLength="10.6" lengthAdjust="spacingAndGlyphs">20</text>
<text x="353" y="378.5" font-size="10" font-weight="bold" text-anchor="end" textLength="10.6" lengthAdjust="spacingAndGlyphs">40</text>
<text x="353" y="346.5" font-size="10" font-weight="bold" text-anchor="end" textLength="10.6" lengthAdjust="spacingAndGlyphs">60</text>
<text x="353" y="314.5" font-size="10" font-weight="bold" text-anchor="end" textLength="10.6" lengthAdjust="spacingAndGlyphs">80</text>
<text x="353" y="282.5" font-size="10" font-weight="bold" text-anchor="end" textLength="15.9" lengthAdjust="spacingAndGlyphs">100</text>
<text x="353" y="250.5" font-size="10" font-weight="bold" text-anchor="end" textLength="15.9" lengthAdjust="spacingAndGlyphs">120</text>
<text x="357.8" y="451.2" font-size="10" font-weight="bold" text-anchor="middle" textLength="5.5" lengthAdjust="spacingAndGlyphs">0</text>
<text x="391.9" y="451.2" font-size="10" font-weight="bold" text-anchor="middle" textLength="11" lengthAdjust="spacingAndGlyphs">50</text>
<text x="426.1" y="451.2" font-size="10" font-weight="bold" text-anchor="middle" textLength="16.5" lengthAdjust="spacingAndGlyphs">100</text>
<text x="460.2" y="451.2" font-size="10" font-weight="bold" text-anchor="middle" textLength="16.5" lengthAdjust="spacingAndGlyphs">150</text>
<text x="494.3" y="451.2" font-size="10" font-weight="bold" text-anchor="middle" textLength="16.5" lengthAdjust="spacingAndGlyphs">200</text>
<text x="426.6" y="462" font-size="10.5" text-anchor="middle" fill="#111" textLength="88.7" lengthAdjust="spacingAndGlyphs">C<tspan font-size="7.5" dy="2.5">3</tspan><tspan dy="-2.5">H</tspan><tspan font-size="7.5" dy="2.5">6</tspan><tspan dy="-2.5"> pressure (Pa)</tspan></text>
<text x="427.2" y="262" font-size="11" font-weight="bold" text-anchor="middle" textLength="40.7" lengthAdjust="spacingAndGlyphs">O<tspan font-size="7.5" dy="2.5">2</tspan><tspan dy="-2.5"> (kPa)</tspan></text>
<text x="0" y="0" font-size="10.5" text-anchor="middle" fill="#111" textLength="203.5" lengthAdjust="spacingAndGlyphs" transform="translate(330.5 342.8) rotate(-90)">C<tspan font-size="7.5" dy="2.5">3</tspan><tspan dy="-2.5">H</tspan><tspan font-size="7.5" dy="2.5">6</tspan><tspan dy="-2.5"> consumption rate (mmol</tspan><tspan font-size="6" dy="2.5">C3H6</tspan><tspan dy="-2.5"> mol</tspan><tspan font-size="6" dy="2.5">Pt</tspan><tspan font-size="5" dy="-2">0</tspan><tspan font-size="6.5" dy="-3">-1</tspan><tspan dy="3.5">s</tspan><tspan font-size="6.5" dy="-3.5">-1</tspan><tspan dy="3.5">)</tspan></text>
<line x1="389" y1="297.4" x2="489.5" y2="297.4" stroke="#111" stroke-width="1.1"/>
<line x1="389" y1="319.6" x2="489.5" y2="319.6" stroke="#555" stroke-width="1.1"/>
<circle cx="389.6" cy="296.8" r="2.7" fill="#000"/>
<circle cx="406.7" cy="296.8" r="2.7" fill="#000"/>
<circle cx="424.6" cy="296.8" r="2.7" fill="#000"/>
<circle cx="437.7" cy="296.8" r="2.7" fill="#000"/>
<circle cx="451.4" cy="296.8" r="2.7" fill="#000"/>
<circle cx="465.3" cy="296.8" r="2.7" fill="#000"/>
<circle cx="478.2" cy="296.8" r="2.7" fill="#000"/>
<rect x="387.5" y="316.9" width="4.8" height="4.8" fill="none" stroke="#777" stroke-width="0.9"/>
<rect x="387.9" y="317.2" width="4" height="4" fill="#fff"/>
<rect x="405.1" y="316.9" width="4.8" height="4.8" fill="none" stroke="#777" stroke-width="0.9"/>
<rect x="405.5" y="317.2" width="4" height="4" fill="#fff"/>
<rect x="422.7" y="316.9" width="4.8" height="4.8" fill="none" stroke="#777" stroke-width="0.9"/>
<rect x="423.1" y="317.2" width="4" height="4" fill="#fff"/>
<rect x="435.8" y="316.9" width="4.8" height="4.8" fill="none" stroke="#777" stroke-width="0.9"/>
<rect x="436.2" y="317.2" width="4" height="4" fill="#fff"/>
<rect x="449.5" y="316.9" width="4.8" height="4.8" fill="none" stroke="#777" stroke-width="0.9"/>
<rect x="449.9" y="317.2" width="4" height="4" fill="#fff"/>
<rect x="463.4" y="316.9" width="4.8" height="4.8" fill="none" stroke="#777" stroke-width="0.9"/>
<rect x="463.8" y="317.2" width="4" height="4" fill="#fff"/>
<rect x="476.8" y="316.9" width="4.8" height="4.8" fill="none" stroke="#777" stroke-width="0.9"/>
<rect x="477.2" y="317.2" width="4" height="4" fill="#fff"/>
<text x="425.6" y="291.6" font-size="11.5" font-weight="bold" text-anchor="middle" textLength="21.5" lengthAdjust="spacingAndGlyphs">10.1</text>
<text x="426.4" y="331.5" font-size="11.5" font-weight="bold" text-anchor="middle" textLength="15.2" lengthAdjust="spacingAndGlyphs">7.6</text>
<text x="488.3" y="433.2" font-size="10.5" font-weight="bold" text-anchor="end" textLength="43.5" lengthAdjust="spacingAndGlyphs">r~[C<tspan font-size="7.5" dy="2.5">3</tspan><tspan dy="-2.5">H</tspan><tspan font-size="7.5" dy="2.5">6</tspan><tspan dy="-2.5">]</tspan><tspan font-size="7.5" dy="-4">0</tspan></text>
<rect x="539.5" y="246.7" width="137" height="192.7" fill="none" stroke="#888" stroke-width="1.2"/>
<g stroke="#888" stroke-width="1">
<line x1="535.6" y1="439.4" x2="539.5" y2="439.4"/>
<line x1="537.2" y1="410.4" x2="539.5" y2="410.4"/>
<line x1="537.2" y1="393.4" x2="539.5" y2="393.4"/>
<line x1="537.2" y1="381.4" x2="539.5" y2="381.4"/>
<line x1="537.2" y1="372.1" x2="539.5" y2="372.1"/>
<line x1="537.2" y1="364.4" x2="539.5" y2="364.4"/>
<line x1="537.2" y1="358" x2="539.5" y2="358"/>
<line x1="537.2" y1="352.4" x2="539.5" y2="352.4"/>
<line x1="537.2" y1="347.5" x2="539.5" y2="347.5"/>
<line x1="535.6" y1="343" x2="539.5" y2="343"/>
<line x1="537.2" y1="314" x2="539.5" y2="314"/>
<line x1="537.2" y1="297.1" x2="539.5" y2="297.1"/>
<line x1="537.2" y1="285" x2="539.5" y2="285"/>
<line x1="537.2" y1="275.7" x2="539.5" y2="275.7"/>
<line x1="537.2" y1="268.1" x2="539.5" y2="268.1"/>
<line x1="537.2" y1="261.6" x2="539.5" y2="261.6"/>
<line x1="537.2" y1="256" x2="539.5" y2="256"/>
<line x1="537.2" y1="251.1" x2="539.5" y2="251.1"/>
<line x1="535.6" y1="246.7" x2="539.5" y2="246.7"/>
<line x1="540.6" y1="439.4" x2="540.6" y2="442.8"/>
<line x1="554.2" y1="439.4" x2="554.2" y2="441.4"/>
<line x1="562.2" y1="439.4" x2="562.2" y2="441.4"/>
<line x1="567.9" y1="439.4" x2="567.9" y2="441.4"/>
<line x1="572.3" y1="439.4" x2="572.3" y2="441.4"/>
<line x1="575.9" y1="439.4" x2="575.9" y2="441.4"/>
<line x1="578.9" y1="439.4" x2="578.9" y2="441.4"/>
<line x1="581.5" y1="439.4" x2="581.5" y2="441.4"/>
<line x1="583.8" y1="439.4" x2="583.8" y2="441.4"/>
<line x1="585.9" y1="439.4" x2="585.9" y2="442.8"/>
<line x1="599.5" y1="439.4" x2="599.5" y2="441.4"/>
<line x1="607.5" y1="439.4" x2="607.5" y2="441.4"/>
<line x1="613.2" y1="439.4" x2="613.2" y2="441.4"/>
<line x1="617.6" y1="439.4" x2="617.6" y2="441.4"/>
<line x1="621.2" y1="439.4" x2="621.2" y2="441.4"/>
<line x1="624.2" y1="439.4" x2="624.2" y2="441.4"/>
<line x1="626.8" y1="439.4" x2="626.8" y2="441.4"/>
<line x1="629.1" y1="439.4" x2="629.1" y2="441.4"/>
<line x1="631.2" y1="439.4" x2="631.2" y2="442.8"/>
<line x1="644.8" y1="439.4" x2="644.8" y2="441.4"/>
<line x1="652.8" y1="439.4" x2="652.8" y2="441.4"/>
<line x1="658.5" y1="439.4" x2="658.5" y2="441.4"/>
<line x1="662.9" y1="439.4" x2="662.9" y2="441.4"/>
<line x1="666.5" y1="439.4" x2="666.5" y2="441.4"/>
<line x1="669.5" y1="439.4" x2="669.5" y2="441.4"/>
<line x1="672.1" y1="439.4" x2="672.1" y2="441.4"/>
<line x1="674.4" y1="439.4" x2="674.4" y2="441.4"/>
<line x1="676.5" y1="439.4" x2="676.5" y2="442.8"/>
</g>
<text x="535.1" y="443.1" font-size="10" font-weight="bold" text-anchor="end" textLength="15.2" lengthAdjust="spacingAndGlyphs">10<tspan font-size="7" dy="-4.2">1</tspan></text>
<text x="535.1" y="346.7" font-size="10" font-weight="bold" text-anchor="end" textLength="15.2" lengthAdjust="spacingAndGlyphs">10<tspan font-size="7" dy="-4.2">2</tspan></text>
<text x="535.1" y="250.4" font-size="10" font-weight="bold" text-anchor="end" textLength="15.2" lengthAdjust="spacingAndGlyphs">10<tspan font-size="7" dy="-4.2">3</tspan></text>
<text x="540.6" y="452.6" font-size="10" font-weight="bold" text-anchor="middle" textLength="18.3" lengthAdjust="spacingAndGlyphs">10<tspan font-size="7" dy="-4.2">&#8722;1</tspan></text>
<text x="585.9" y="452.6" font-size="10" font-weight="bold" text-anchor="middle" textLength="15.2" lengthAdjust="spacingAndGlyphs">10<tspan font-size="7" dy="-4.2">0</tspan></text>
<text x="631.2" y="452.6" font-size="10" font-weight="bold" text-anchor="middle" textLength="15.2" lengthAdjust="spacingAndGlyphs">10<tspan font-size="7" dy="-4.2">1</tspan></text>
<text x="676.5" y="452.6" font-size="10" font-weight="bold" text-anchor="middle" textLength="15.2" lengthAdjust="spacingAndGlyphs">10<tspan font-size="7" dy="-4.2">2</tspan></text>
<text x="607.4" y="463.8" font-size="10.5" text-anchor="middle" fill="#111" textLength="82.3" lengthAdjust="spacingAndGlyphs">O<tspan font-size="7.5" dy="2.5">2</tspan><tspan dy="-2.5"> pressure (kPa)</tspan></text>
<text x="610.7" y="262.5" font-size="11" font-weight="bold" text-anchor="middle" textLength="45.9" lengthAdjust="spacingAndGlyphs">C<tspan font-size="7.5" dy="2.5">3</tspan><tspan dy="-2.5">H</tspan><tspan font-size="7.5" dy="2.5">6</tspan><tspan dy="-2.5"> (Pa)</tspan></text>
<text x="0" y="0" font-size="10.5" text-anchor="middle" fill="#111" textLength="205" lengthAdjust="spacingAndGlyphs" transform="translate(516.4 344.2) rotate(-90)">C<tspan font-size="7.5" dy="2.5">3</tspan><tspan dy="-2.5">H</tspan><tspan font-size="7.5" dy="2.5">6</tspan><tspan dy="-2.5"> consumption rate (mmol</tspan><tspan font-size="6" dy="2.5">C3H6</tspan><tspan dy="-2.5"> mol</tspan><tspan font-size="6" dy="2.5">Pt</tspan><tspan font-size="5" dy="-2">0</tspan><tspan font-size="6.5" dy="-3">-1</tspan><tspan dy="3.5">s</tspan><tspan font-size="6.5" dy="-3.5">-1</tspan><tspan dy="3.5">)</tspan></text>
<line x1="585.9" y1="398.9" x2="642.3" y2="337.3" stroke="#222" stroke-width="0.9"/>
<circle cx="589.1" cy="395.4" r="2.7" fill="#000"/>
<circle cx="603.4" cy="379.4" r="2.7" fill="#000"/>
<circle cx="616.7" cy="364.3" r="2.7" fill="#000"/>
<circle cx="624.8" cy="355.1" r="2.7" fill="#000"/>
<circle cx="630.7" cy="348.9" r="2.7" fill="#000"/>
<circle cx="635" cy="343.5" r="2.7" fill="#000"/>
<circle cx="638.8" cy="340.3" r="2.7" fill="#000"/>
<text x="615.3" y="360.3" font-size="11.5" font-weight="bold" text-anchor="end" textLength="20.3" lengthAdjust="spacingAndGlyphs">99.4</text>
<text x="615.6" y="378.7" font-size="11.5" font-weight="bold" textLength="20.3" lengthAdjust="spacingAndGlyphs">72.1</text>
<text x="602.6" y="430.8" font-size="10.5" font-weight="bold" textLength="69" lengthAdjust="spacingAndGlyphs">r=25.53[O<tspan font-size="7.5" dy="2.5">2</tspan><tspan dy="-2.5">]</tspan><tspan font-size="7.5" dy="-4">0.53</tspan></text>
<text x="0" y="489.7" font-size="29" font-weight="bold">e</text>
<defs>
<radialGradient id="gPt" cx="0.38" cy="0.35" r="0.7"><stop offset="0" stop-color="#5f9fbd"/><stop offset="0.55" stop-color="#2c6a88"/><stop offset="1" stop-color="#1b4a62"/></radialGradient>
<radialGradient id="gO" cx="0.38" cy="0.35" r="0.7"><stop offset="0" stop-color="#ff7a6a"/><stop offset="0.5" stop-color="#f01a10"/><stop offset="1" stop-color="#b00000"/></radialGradient>
<radialGradient id="gC" cx="0.38" cy="0.35" r="0.7"><stop offset="0" stop-color="#bdbdbd"/><stop offset="0.6" stop-color="#7d7d7d"/><stop offset="1" stop-color="#555"/></radialGradient>
<radialGradient id="gH" cx="0.38" cy="0.35" r="0.7"><stop offset="0" stop-color="#ffffff"/><stop offset="0.6" stop-color="#e6e6e6"/><stop offset="1" stop-color="#a8a8a8"/></radialGradient>
<radialGradient id="gS" cx="0.4" cy="0.4" r="0.7"><stop offset="0" stop-color="#fbfbe6"/><stop offset="1" stop-color="#cfcf9e"/></radialGradient>
</defs>
<rect x="68" y="765.3" width="98" height="3.2" fill="#e3e3bd"/>
<line x1="68" y1="768.5" x2="166" y2="768.5" stroke="#c9c995" stroke-width="0.8"/>
<path d="M74.5 765.9L76 754.2M74.5 765.9L81.1 750.6M74.5 765.9L71.6 757.9M108.8 765.9L102.2 758.6M108.8 765.9L114.6 750.6M108.8 765.9L108.8 755.7M108.8 765.9L124.1 758.6M143.8 765.9L140.9 754.2M143.8 765.9L151.9 753.5M143.8 765.9L158.4 758.6M143.8 765.9L136.5 758.6" stroke="#e8e8c4" stroke-width="1.6" fill="none"/>
<path d="M75.2 738.2L76 754.2M75.2 738.2L81.1 750.6M87.6 738.2L81.1 750.6M92.7 741.1L92 757.9M103 741.8L102.2 758.6M103 741.8L108.8 755.7M111.7 737.4L114.6 750.6M121.9 741.8L124.1 758.6M121.9 741.8L127.8 755.7M127.8 738.9L127.8 755.7M140.9 740.4L140.9 754.2" stroke="#d93030" stroke-width="1.1" fill="none"/>
<path d="M99.3 703.9L117.6 706.8M99.3 703.9L88.4 722.1M99.3 703.9L102.2 721M99.3 703.9L112.4 721.8M117.6 706.8L135.1 718.5M117.6 706.8L102.2 721M117.6 706.8L112.4 721.8M117.6 706.8L127.8 722.4M135.1 718.5L112.4 721.8M135.1 718.5L127.8 722.4M135.1 718.5L127.8 738.9M135.1 718.5L140.9 740.4M135.1 718.5L148.2 736M88.4 722.1L102.2 721M88.4 722.1L75.2 738.2M88.4 722.1L87.6 738.2M88.4 722.1L92.7 741.1M102.2 721L112.4 721.8M102.2 721L87.6 738.2M102.2 721L92.7 741.1M102.2 721L103 741.8M102.2 721L111.7 737.4M112.4 721.8L127.8 722.4M112.4 721.8L103 741.8M112.4 721.8L111.7 737.4M112.4 721.8L121.9 741.8M127.8 722.4L111.7 737.4M127.8 722.4L121.9 741.8M127.8 722.4L127.8 738.9M127.8 722.4L140.9 740.4M75.2 738.2L87.6 738.2M75.2 738.2L92.7 741.1M87.6 738.2L92.7 741.1M87.6 738.2L103 741.8M92.7 741.1L103 741.8M92.7 741.1L111.7 737.4M103 741.8L111.7 737.4M103 741.8L121.9 741.8M111.7 737.4L121.9 741.8M111.7 737.4L127.8 738.9M121.9 741.8L127.8 738.9M121.9 741.8L140.9 740.4M127.8 738.9L140.9 740.4M127.8 738.9L148.2 736M140.9 740.4L148.2 736" stroke="#2d6c8a" stroke-width="1.15" fill="none"/>
<path d="M99.3 703.9L108.8 696.6M117.6 706.8L108.8 696.6M99.3 703.9L97.8 707.5M102.2 721L97.8 707.5" stroke="#d42a2a" stroke-width="1.2" fill="none"/>
<circle cx="74.5" cy="765.9" r="2.9" fill="url(#gS)"/>
<circle cx="108.8" cy="765.9" r="2.9" fill="url(#gS)"/>
<circle cx="143.8" cy="765.9" r="2.9" fill="url(#gS)"/>
<circle cx="76" cy="754.2" r="3.2" fill="url(#gO)"/>
<circle cx="81.1" cy="750.6" r="3.2" fill="url(#gO)"/>
<circle cx="71.6" cy="757.9" r="3.2" fill="url(#gO)"/>
<circle cx="92" cy="757.9" r="3.2" fill="url(#gO)"/>
<circle cx="102.2" cy="758.6" r="3.2" fill="url(#gO)"/>
<circle cx="114.6" cy="750.6" r="3.2" fill="url(#gO)"/>
<circle cx="108.8" cy="755.7" r="3.2" fill="url(#gO)"/>
<circle cx="124.1" cy="758.6" r="3.2" fill="url(#gO)"/>
<circle cx="127.8" cy="755.7" r="3.2" fill="url(#gO)"/>
<circle cx="140.9" cy="754.2" r="3.2" fill="url(#gO)"/>
<circle cx="151.9" cy="753.5" r="3.2" fill="url(#gO)"/>
<circle cx="157.7" cy="755" r="3.2" fill="url(#gO)"/>
<circle cx="158.4" cy="758.6" r="3.2" fill="url(#gO)"/>
<circle cx="136.5" cy="758.6" r="3.2" fill="url(#gO)"/>
<circle cx="99.3" cy="703.9" r="2.9" fill="url(#gPt)"/>
<circle cx="117.6" cy="706.8" r="2.9" fill="url(#gPt)"/>
<circle cx="135.1" cy="718.5" r="2.9" fill="url(#gPt)"/>
<circle cx="102.2" cy="721" r="2.9" fill="url(#gPt)"/>
<circle cx="112.4" cy="721.8" r="2.9" fill="url(#gPt)"/>
<circle cx="88.4" cy="722.1" r="2.9" fill="url(#gPt)"/>
<circle cx="127.8" cy="722.4" r="2.9" fill="url(#gPt)"/>
<circle cx="148.2" cy="736" r="2.9" fill="url(#gPt)"/>
<circle cx="111.7" cy="737.4" r="2.9" fill="url(#gPt)"/>
<circle cx="75.2" cy="738.2" r="2.9" fill="url(#gPt)"/>
<circle cx="87.6" cy="738.2" r="2.9" fill="url(#gPt)"/>
<circle cx="127.8" cy="738.9" r="2.9" fill="url(#gPt)"/>
<circle cx="140.9" cy="740.4" r="2.9" fill="url(#gPt)"/>
<circle cx="92.7" cy="741.1" r="2.9" fill="url(#gPt)"/>
<circle cx="103" cy="741.8" r="2.9" fill="url(#gPt)"/>
<circle cx="121.9" cy="741.8" r="2.9" fill="url(#gPt)"/>
<circle cx="108.8" cy="696.6" r="3.2" fill="url(#gO)"/>
<circle cx="97.8" cy="707.5" r="3.2" fill="url(#gO)"/>
<rect x="160" y="765.3" width="80" height="3.2" fill="#e3e3bd"/>
<line x1="160" y1="768.5" x2="240" y2="768.5" stroke="#c9c995" stroke-width="0.8"/>
<path d="M164.1 764.4L168.8 753.3M164.1 764.4L162.3 758.6M164.1 764.4L176.9 755.7M190.4 766.8L185.1 758.6M190.4 766.8L192.7 755.1M190.4 766.8L191.5 759.7M190.4 766.8L202 755.1M190.4 766.8L203.8 758.6M216.1 765.6L203.8 758.6M216.1 765.6L212 758M216.1 765.6L219 758.6M216.1 765.6L224.2 751.6M216.1 765.6L228.9 756.2M216.1 765.6L231.8 759.7" stroke="#e8e8c4" stroke-width="1.6" fill="none"/>
<path d="M175.2 742.8L168.8 753.3M175.2 742.8L176.9 755.7M179.9 742.8L176.9 755.7M179.9 742.8L185.1 758.6M186.3 745.1L185.1 758.6M186.3 745.1L192.7 755.1M186.3 745.1L191.5 759.7M192.1 745.7L192.7 755.1M192.1 745.7L191.5 759.7M196.8 744L192.7 755.1M196.8 744L191.5 759.7M196.8 744L202 755.1M201.5 744L202 755.1M201.5 744L203.8 758.6M204.4 745.7L202 755.1M204.4 745.7L203.8 758.6M210.2 744.6L203.8 758.6M210.2 744.6L212 758M217.2 742.2L212 758M217.2 742.2L219 758.6M221.9 744L219 758.6M221.9 744L224.2 751.6" stroke="#d93030" stroke-width="1.1" fill="none"/>
<path d="M193.3 716L206.7 716M193.3 716L189.2 730.5M193.3 716L198.5 730M193.3 716L202.6 729.4M206.7 716L198.5 730M206.7 716L202.6 729.4M206.7 716L212.6 729.4M179.9 727.6L189.2 730.5M179.9 727.6L175.2 742.8M179.9 727.6L179.9 742.8M189.2 730.5L198.5 730M189.2 730.5L202.6 729.4M189.2 730.5L179.9 742.8M189.2 730.5L186.3 745.1M189.2 730.5L192.1 745.7M189.2 730.5L196.8 744M198.5 730L202.6 729.4M198.5 730L212.6 729.4M198.5 730L192.1 745.7M198.5 730L196.8 744M198.5 730L201.5 744M198.5 730L204.4 745.7M202.6 729.4L212.6 729.4M202.6 729.4L196.8 744M202.6 729.4L201.5 744M202.6 729.4L204.4 745.7M202.6 729.4L210.2 744.6M212.6 729.4L210.2 744.6M212.6 729.4L217.2 742.2M212.6 729.4L221.9 744M175.2 742.8L179.9 742.8M175.2 742.8L186.3 745.1M175.2 742.8L192.1 745.7M179.9 742.8L186.3 745.1M179.9 742.8L192.1 745.7M179.9 742.8L196.8 744M186.3 745.1L192.1 745.7M186.3 745.1L196.8 744M186.3 745.1L201.5 744M192.1 745.7L196.8 744M192.1 745.7L201.5 744M192.1 745.7L204.4 745.7M196.8 744L201.5 744M196.8 744L204.4 745.7M196.8 744L210.2 744.6M201.5 744L204.4 745.7M201.5 744L210.2 744.6M201.5 744L217.2 742.2M204.4 745.7L210.2 744.6M204.4 745.7L217.2 742.2M210.2 744.6L217.2 742.2M210.2 744.6L221.9 744M217.2 742.2L221.9 744" stroke="#2d6c8a" stroke-width="1.15" fill="none"/>
<path d="M206.7 716L215.8 716.5M212.6 729.4L215.8 716.5" stroke="#d42a2a" stroke-width="1.2" fill="none"/>
<path d="M188 700.2L185.1 693.8M177.5 690.8L185.1 693.8M190.9 689.7L185.1 693.8M185.1 693.8L188 700.2M181.6 704.3L188 700.2M193.3 716L197.4 704.3M202.6 699.6L197.4 704.3M199.7 707.8L197.4 704.3M203.2 712.4L197.4 704.3" stroke="#8a8a8a" stroke-width="1.3" fill="none"/>
<circle cx="164.1" cy="764.4" r="2.9" fill="url(#gS)"/>
<circle cx="190.4" cy="766.8" r="2.9" fill="url(#gS)"/>
<circle cx="216.1" cy="765.6" r="2.9" fill="url(#gS)"/>
<circle cx="168.8" cy="753.3" r="3.2" fill="url(#gO)"/>
<circle cx="162.3" cy="758.6" r="3.2" fill="url(#gO)"/>
<circle cx="176.9" cy="755.7" r="3.2" fill="url(#gO)"/>
<circle cx="185.1" cy="758.6" r="3.2" fill="url(#gO)"/>
<circle cx="192.7" cy="755.1" r="3.2" fill="url(#gO)"/>
<circle cx="191.5" cy="759.7" r="3.2" fill="url(#gO)"/>
<circle cx="202" cy="755.1" r="3.2" fill="url(#gO)"/>
<circle cx="203.8" cy="758.6" r="3.2" fill="url(#gO)"/>
<circle cx="212" cy="758" r="3.2" fill="url(#gO)"/>
<circle cx="219" cy="758.6" r="3.2" fill="url(#gO)"/>
<circle cx="224.2" cy="751.6" r="3.2" fill="url(#gO)"/>
<circle cx="228.9" cy="756.2" r="3.2" fill="url(#gO)"/>
<circle cx="231.8" cy="759.7" r="3.2" fill="url(#gO)"/>
<circle cx="238.2" cy="759.2" r="3.2" fill="url(#gO)"/>
<circle cx="193.3" cy="716" r="2.9" fill="url(#gPt)"/>
<circle cx="206.7" cy="716" r="2.9" fill="url(#gPt)"/>
<circle cx="179.9" cy="727.6" r="2.9" fill="url(#gPt)"/>
<circle cx="202.6" cy="729.4" r="2.9" fill="url(#gPt)"/>
<circle cx="212.6" cy="729.4" r="2.9" fill="url(#gPt)"/>
<circle cx="198.5" cy="730" r="2.9" fill="url(#gPt)"/>
<circle cx="189.2" cy="730.5" r="2.9" fill="url(#gPt)"/>
<circle cx="217.2" cy="742.2" r="2.9" fill="url(#gPt)"/>
<circle cx="175.2" cy="742.8" r="2.9" fill="url(#gPt)"/>
<circle cx="179.9" cy="742.8" r="2.9" fill="url(#gPt)"/>
<circle cx="196.8" cy="744" r="2.9" fill="url(#gPt)"/>
<circle cx="201.5" cy="744" r="2.9" fill="url(#gPt)"/>
<circle cx="221.9" cy="744" r="2.9" fill="url(#gPt)"/>
<circle cx="210.2" cy="744.6" r="2.9" fill="url(#gPt)"/>
<circle cx="186.3" cy="745.1" r="2.9" fill="url(#gPt)"/>
<circle cx="192.1" cy="745.7" r="2.9" fill="url(#gPt)"/>
<circle cx="204.4" cy="745.7" r="2.9" fill="url(#gPt)"/>
<circle cx="215.8" cy="716.5" r="3.2" fill="url(#gO)"/>
<circle cx="185.1" cy="693.8" r="2.9" fill="url(#gC)"/>
<circle cx="188" cy="700.2" r="2.9" fill="url(#gC)"/>
<circle cx="197.4" cy="704.3" r="2.9" fill="url(#gC)"/>
<circle cx="177.5" cy="690.8" r="2.6" fill="url(#gH)"/>
<circle cx="190.9" cy="689.7" r="2.6" fill="url(#gH)"/>
<circle cx="181.6" cy="704.3" r="2.6" fill="url(#gH)"/>
<circle cx="202.6" cy="699.6" r="2.6" fill="url(#gH)"/>
<circle cx="199.7" cy="707.8" r="2.6" fill="url(#gH)"/>
<circle cx="203.2" cy="712.4" r="2.6" fill="url(#gH)"/>
<rect x="240" y="765.3" width="70" height="3.2" fill="#e3e3bd"/>
<line x1="240" y1="768.5" x2="310" y2="768.5" stroke="#c9c995" stroke-width="0.8"/>
<path d="M242.3 765.6L247 753.9M242.3 765.6L241.2 758.6M242.3 765.6L254 755.7M266.3 765.6L254 755.7M266.3 765.6L261.6 759.2M266.3 765.6L269.2 755.1M266.3 765.6L268 759.2M266.3 765.6L278 755.1M266.3 765.6L280.3 759.2M292.6 765.6L280.3 759.2M292.6 765.6L287.3 758M292.6 765.6L294.3 758.6M292.6 765.6L299.6 752.7M292.6 765.6L303.6 756.2M292.6 765.6L307.7 759.7" stroke="#e8e8c4" stroke-width="1.6" fill="none"/>
<path d="M252.8 742.8L247 753.9M252.8 742.8L254 755.7M256.9 743.4L254 755.7M256.9 743.4L261.6 759.2M263.9 746.9L261.6 759.2M263.9 746.9L269.2 755.1M263.9 746.9L268 759.2M270.9 745.1L269.2 755.1M270.9 745.1L268 759.2M273.9 744L269.2 755.1M273.9 744L268 759.2M273.9 744L278 755.1M273.9 744L280.3 759.2M280.3 746.3L278 755.1M280.3 746.3L280.3 759.2M286.1 745.1L280.3 759.2M286.1 745.1L287.3 758M292.6 744L287.3 758M292.6 744L294.3 758.6M297.2 745.1L294.3 758.6M297.2 745.1L299.6 752.7M297.2 745.1L303.6 756.2" stroke="#d93030" stroke-width="1.1" fill="none"/>
<path d="M269.2 716.5L276.8 718.9M269.2 716.5L257.5 728.8M269.2 716.5L266.9 732.3M269.2 716.5L275.6 731.1M276.8 718.9L266.9 732.3M276.8 718.9L275.6 731.1M276.8 718.9L281.5 732.3M276.8 718.9L287.3 730M257.5 728.8L266.9 732.3M257.5 728.8L252.8 742.8M257.5 728.8L256.9 743.4M266.9 732.3L275.6 731.1M266.9 732.3L281.5 732.3M266.9 732.3L256.9 743.4M266.9 732.3L263.9 746.9M266.9 732.3L270.9 745.1M266.9 732.3L273.9 744M275.6 731.1L281.5 732.3M275.6 731.1L287.3 730M275.6 731.1L270.9 745.1M275.6 731.1L273.9 744M275.6 731.1L280.3 746.3M281.5 732.3L287.3 730M281.5 732.3L270.9 745.1M281.5 732.3L273.9 744M281.5 732.3L280.3 746.3M281.5 732.3L286.1 745.1M281.5 732.3L292.6 744M287.3 730L286.1 745.1M287.3 730L292.6 744M252.8 742.8L256.9 743.4M252.8 742.8L263.9 746.9M256.9 743.4L263.9 746.9M256.9 743.4L270.9 745.1M256.9 743.4L273.9 744M263.9 746.9L270.9 745.1M263.9 746.9L273.9 744M263.9 746.9L280.3 746.3M270.9 745.1L273.9 744M270.9 745.1L280.3 746.3M270.9 745.1L286.1 745.1M273.9 744L280.3 746.3M273.9 744L286.1 745.1M280.3 746.3L286.1 745.1M280.3 746.3L292.6 744M280.3 746.3L297.2 745.1M286.1 745.1L292.6 744M286.1 745.1L297.2 745.1M292.6 744L297.2 745.1" stroke="#2d6c8a" stroke-width="1.15" fill="none"/>
<path d="M276.8 718.9L287.3 715.6M287.3 730L287.3 715.6" stroke="#d42a2a" stroke-width="1.2" fill="none"/>
<path d="M271.5 699.5L270.9 696.1M265.7 690.3L270.9 696.1M265.1 696.7L270.9 696.1M276.8 696.1L270.9 696.1M269.2 716.5L276.2 706M271.5 699.5L276.2 706M276.8 696.1L276.2 706M279.7 703.7L276.2 706M283.8 710.1L276.2 706M270.9 696.1L271.5 699.5M276.2 706L271.5 699.5M265.1 696.7L271.5 699.5M276.8 696.1L271.5 699.5M279.7 703.7L271.5 699.5M283.8 710.1L287.3 715.6" stroke="#8a8a8a" stroke-width="1.3" fill="none"/>
<circle cx="242.3" cy="765.6" r="2.9" fill="url(#gS)"/>
<circle cx="266.3" cy="765.6" r="2.9" fill="url(#gS)"/>
<circle cx="292.6" cy="765.6" r="2.9" fill="url(#gS)"/>
<circle cx="247" cy="753.9" r="3.2" fill="url(#gO)"/>
<circle cx="241.2" cy="758.6" r="3.2" fill="url(#gO)"/>
<circle cx="254" cy="755.7" r="3.2" fill="url(#gO)"/>
<circle cx="261.6" cy="759.2" r="3.2" fill="url(#gO)"/>
<circle cx="269.2" cy="755.1" r="3.2" fill="url(#gO)"/>
<circle cx="268" cy="759.2" r="3.2" fill="url(#gO)"/>
<circle cx="278" cy="755.1" r="3.2" fill="url(#gO)"/>
<circle cx="280.3" cy="759.2" r="3.2" fill="url(#gO)"/>
<circle cx="287.3" cy="758" r="3.2" fill="url(#gO)"/>
<circle cx="294.3" cy="758.6" r="3.2" fill="url(#gO)"/>
<circle cx="299.6" cy="752.7" r="3.2" fill="url(#gO)"/>
<circle cx="303.6" cy="756.2" r="3.2" fill="url(#gO)"/>
<circle cx="307.7" cy="759.7" r="3.2" fill="url(#gO)"/>
<circle cx="269.2" cy="716.5" r="2.9" fill="url(#gPt)"/>
<circle cx="276.8" cy="718.9" r="2.9" fill="url(#gPt)"/>
<circle cx="257.5" cy="728.8" r="2.9" fill="url(#gPt)"/>
<circle cx="287.3" cy="730" r="2.9" fill="url(#gPt)"/>
<circle cx="275.6" cy="731.1" r="2.9" fill="url(#gPt)"/>
<circle cx="266.9" cy="732.3" r="2.9" fill="url(#gPt)"/>
<circle cx="281.5" cy="732.3" r="2.9" fill="url(#gPt)"/>
<circle cx="252.8" cy="742.8" r="2.9" fill="url(#gPt)"/>
<circle cx="256.9" cy="743.4" r="2.9" fill="url(#gPt)"/>
<circle cx="273.9" cy="744" r="2.9" fill="url(#gPt)"/>
<circle cx="292.6" cy="744" r="2.9" fill="url(#gPt)"/>
<circle cx="270.9" cy="745.1" r="2.9" fill="url(#gPt)"/>
<circle cx="286.1" cy="745.1" r="2.9" fill="url(#gPt)"/>
<circle cx="297.2" cy="745.1" r="2.9" fill="url(#gPt)"/>
<circle cx="280.3" cy="746.3" r="2.9" fill="url(#gPt)"/>
<circle cx="263.9" cy="746.9" r="2.9" fill="url(#gPt)"/>
<circle cx="287.3" cy="715.6" r="3.2" fill="url(#gO)"/>
<circle cx="270.9" cy="696.1" r="2.9" fill="url(#gC)"/>
<circle cx="276.2" cy="706" r="2.9" fill="url(#gC)"/>
<circle cx="271.5" cy="699.5" r="2.9" fill="url(#gC)"/>
<circle cx="265.7" cy="690.3" r="2.6" fill="url(#gH)"/>
<circle cx="265.1" cy="696.7" r="2.6" fill="url(#gH)"/>
<circle cx="276.8" cy="696.1" r="2.6" fill="url(#gH)"/>
<circle cx="279.7" cy="703.7" r="2.6" fill="url(#gH)"/>
<circle cx="283.8" cy="710.1" r="2.6" fill="url(#gH)"/>
<rect x="310" y="765" width="82" height="3.2" fill="#e3e3bd"/>
<line x1="310" y1="768.2" x2="392" y2="768.2" stroke="#c9c995" stroke-width="0.8"/>
<path d="M319.3 763.8L312.5 752.6M319.3 763.8L321.8 752.6M319.3 763.8L326.1 756.3M319.3 763.8L334.2 755.7M351 765.7L337.9 755.7M351 765.7L352.2 753.9M351 765.7L357.8 757M383.8 763.8L377.6 748.9M383.8 763.8L382 753.9M383.8 763.8L387.6 756.3" stroke="#e8e8c4" stroke-width="1.6" fill="none"/>
<path d="M317.4 738.4L312.5 752.6M317.4 738.4L321.8 752.6M324.9 737.7L321.8 752.6M334.2 739.6L334.2 755.7M334.2 739.6L337.9 755.7M341.6 740.8L337.9 755.7M341.6 740.8L347.2 747.7M347.2 737.1L347.2 747.7M350.3 740.2L347.2 747.7M350.3 740.2L352.2 753.9M357.8 741.5L352.2 753.9M357.8 741.5L357.8 757M365.2 741.5L367.1 755.7M371.4 737.7L377.6 748.9M380.1 738.4L377.6 748.9M380.1 738.4L382 753.9" stroke="#d93030" stroke-width="1.1" fill="none"/>
<path d="M341.6 705.5L356.5 706.1M341.6 705.5L328.6 721.6M341.6 705.5L336.1 721M341.6 705.5L346.6 723.5M341.6 705.5L354 722.2M356.5 706.1L346.6 723.5M356.5 706.1L354 722.2M356.5 706.1L368.9 722.2M328.6 721.6L336.1 721M328.6 721.6L346.6 723.5M328.6 721.6L317.4 738.4M328.6 721.6L324.9 737.7M328.6 721.6L334.2 739.6M336.1 721L346.6 723.5M336.1 721L354 722.2M336.1 721L324.9 737.7M336.1 721L334.2 739.6M336.1 721L341.6 740.8M336.1 721L347.2 737.1M346.6 723.5L354 722.2M346.6 723.5L334.2 739.6M346.6 723.5L341.6 740.8M346.6 723.5L347.2 737.1M346.6 723.5L350.3 740.2M346.6 723.5L357.8 741.5M354 722.2L368.9 722.2M354 722.2L347.2 737.1M354 722.2L350.3 740.2M354 722.2L357.8 741.5M368.9 722.2L365.2 741.5M368.9 722.2L371.4 737.7M368.9 722.2L380.1 738.4M317.4 738.4L324.9 737.7M317.4 738.4L334.2 739.6M324.9 737.7L334.2 739.6M324.9 737.7L341.6 740.8M334.2 739.6L341.6 740.8M334.2 739.6L347.2 737.1M334.2 739.6L350.3 740.2M341.6 740.8L347.2 737.1M341.6 740.8L350.3 740.2M341.6 740.8L357.8 741.5M347.2 737.1L350.3 740.2M347.2 737.1L357.8 741.5M347.2 737.1L365.2 741.5M350.3 740.2L357.8 741.5M350.3 740.2L365.2 741.5M350.3 740.2L371.4 737.7M357.8 741.5L365.2 741.5M357.8 741.5L371.4 737.7M365.2 741.5L371.4 737.7M365.2 741.5L380.1 738.4M371.4 737.7L380.1 738.4" stroke="#2d6c8a" stroke-width="1.15" fill="none"/>
<path d="M341.6 705.5L342.3 697.4M341.6 705.5L333 714.8M328.6 721.6L333 714.8M336.1 721L333 714.8" stroke="#d42a2a" stroke-width="1.2" fill="none"/>
<path d="M343.5 693.7L342.3 697.4" stroke="#8a8a8a" stroke-width="1.3" fill="none"/>
<circle cx="319.3" cy="763.8" r="2.9" fill="url(#gS)"/>
<circle cx="351" cy="765.7" r="2.9" fill="url(#gS)"/>
<circle cx="383.8" cy="763.8" r="2.9" fill="url(#gS)"/>
<circle cx="312.5" cy="752.6" r="3.2" fill="url(#gO)"/>
<circle cx="321.8" cy="752.6" r="3.2" fill="url(#gO)"/>
<circle cx="326.1" cy="756.3" r="3.2" fill="url(#gO)"/>
<circle cx="334.2" cy="755.7" r="3.2" fill="url(#gO)"/>
<circle cx="337.9" cy="755.7" r="3.2" fill="url(#gO)"/>
<circle cx="347.2" cy="747.7" r="3.2" fill="url(#gO)"/>
<circle cx="352.2" cy="753.9" r="3.2" fill="url(#gO)"/>
<circle cx="357.8" cy="757" r="3.2" fill="url(#gO)"/>
<circle cx="367.1" cy="755.7" r="3.2" fill="url(#gO)"/>
<circle cx="377.6" cy="748.9" r="3.2" fill="url(#gO)"/>
<circle cx="382" cy="753.9" r="3.2" fill="url(#gO)"/>
<circle cx="387.6" cy="756.3" r="3.2" fill="url(#gO)"/>
<circle cx="341.6" cy="705.5" r="2.9" fill="url(#gPt)"/>
<circle cx="356.5" cy="706.1" r="2.9" fill="url(#gPt)"/>
<circle cx="336.1" cy="721" r="2.9" fill="url(#gPt)"/>
<circle cx="328.6" cy="721.6" r="2.9" fill="url(#gPt)"/>
<circle cx="354" cy="722.2" r="2.9" fill="url(#gPt)"/>
<circle cx="368.9" cy="722.2" r="2.9" fill="url(#gPt)"/>
<circle cx="346.6" cy="723.5" r="2.9" fill="url(#gPt)"/>
<circle cx="347.2" cy="737.1" r="2.9" fill="url(#gPt)"/>
<circle cx="324.9" cy="737.7" r="2.9" fill="url(#gPt)"/>
<circle cx="371.4" cy="737.7" r="2.9" fill="url(#gPt)"/>
<circle cx="317.4" cy="738.4" r="2.9" fill="url(#gPt)"/>
<circle cx="380.1" cy="738.4" r="2.9" fill="url(#gPt)"/>
<circle cx="334.2" cy="739.6" r="2.9" fill="url(#gPt)"/>
<circle cx="350.3" cy="740.2" r="2.9" fill="url(#gPt)"/>
<circle cx="341.6" cy="740.8" r="2.9" fill="url(#gPt)"/>
<circle cx="357.8" cy="741.5" r="2.9" fill="url(#gPt)"/>
<circle cx="365.2" cy="741.5" r="2.9" fill="url(#gPt)"/>
<circle cx="342.3" cy="697.4" r="3.2" fill="url(#gO)"/>
<circle cx="333" cy="714.8" r="3.2" fill="url(#gO)"/>
<circle cx="343.5" cy="693.7" r="2.6" fill="url(#gH)"/>
<circle cx="336.7" cy="704.9" r="2.6" fill="url(#gH)"/>
<rect x="394" y="765.3" width="70" height="3.2" fill="#e3e3bd"/>
<line x1="394" y1="768.5" x2="464" y2="768.5" stroke="#c9c995" stroke-width="0.8"/>
<path d="M399 765.4L404.8 758.8M399 765.4L411.4 758.1M399 765.4L400.4 754.5M425.3 766.1L411.4 758.1M425.3 766.1L415 757.4M425.3 766.1L427.4 755.2M425.3 766.1L431.8 759.6M425.3 766.1L439.9 758.1M455.9 765.4L450.8 751.5M455.9 765.4L454.5 755.9M455.9 765.4L459.6 758.8" stroke="#e8e8c4" stroke-width="1.6" fill="none"/>
<path d="M397.5 743.1L400.4 754.5M404.1 742L404.8 758.8M404.1 742L400.4 754.5M411.4 743.5L404.8 758.8M411.4 743.5L411.4 758.1M411.4 743.5L415 757.4M418 744.2L411.4 758.1M418 744.2L415 757.4M422.3 741.3L427.4 755.2M426.4 743.5L427.4 755.2M426.4 743.5L431.8 759.6M432.6 745L427.4 755.2M432.6 745L431.8 759.6M439.1 744.2L439.9 758.1M445 742L439.9 758.1M445 742L450.8 751.5M452.3 743.1L450.8 751.5M452.3 743.1L454.5 755.9" stroke="#d93030" stroke-width="1.1" fill="none"/>
<path d="M412.8 711.4L428.9 715M412.8 711.4L408.5 728.9M412.8 711.4L412.8 726M412.8 711.4L420.1 727M428.9 715L420.1 727M428.9 715L428.9 728.9M408.5 728.9L412.8 726M408.5 728.9L420.1 727M408.5 728.9L397.5 743.1M408.5 728.9L404.1 742M408.5 728.9L411.4 743.5M408.5 728.9L418 744.2M412.8 726L420.1 727M412.8 726L428.9 728.9M412.8 726L404.1 742M412.8 726L411.4 743.5M412.8 726L422.3 741.3M420.1 727L428.9 728.9M420.1 727L418 744.2M420.1 727L422.3 741.3M420.1 727L426.4 743.5M428.9 728.9L442 728.2M428.9 728.9L422.3 741.3M428.9 728.9L426.4 743.5M428.9 728.9L432.6 745M428.9 728.9L439.1 744.2M442 728.2L439.1 744.2M442 728.2L445 742M442 728.2L452.3 743.1M397.5 743.1L404.1 742M397.5 743.1L411.4 743.5M404.1 742L411.4 743.5M404.1 742L418 744.2M404.1 742L422.3 741.3M411.4 743.5L418 744.2M411.4 743.5L422.3 741.3M411.4 743.5L426.4 743.5M418 744.2L422.3 741.3M418 744.2L426.4 743.5M418 744.2L432.6 745M422.3 741.3L426.4 743.5M422.3 741.3L432.6 745M422.3 741.3L439.1 744.2M426.4 743.5L432.6 745M426.4 743.5L439.1 744.2M432.6 745L439.1 744.2M432.6 745L445 742M439.1 744.2L445 742M439.1 744.2L452.3 743.1M445 742L452.3 743.1" stroke="#2d6c8a" stroke-width="1.15" fill="none"/>
<path d="M412.8 711.4L419.7 706.3M428.9 715L419.7 706.3" stroke="#d42a2a" stroke-width="1.2" fill="none"/>
<path d="M415 702.6L419.7 706.3M422.3 697.5L419.7 706.3M412.8 711.4L415 702.6M422.3 697.5L415 702.6M408.5 701.9L415 702.6M415 702.6L422.3 697.5M419.1 691.7L422.3 697.5M436.2 693.1L433.3 698.2M437.7 696.1L433.3 698.2" stroke="#8a8a8a" stroke-width="1.3" fill="none"/>
<circle cx="399" cy="765.4" r="2.9" fill="url(#gS)"/>
<circle cx="425.3" cy="766.1" r="2.9" fill="url(#gS)"/>
<circle cx="455.9" cy="765.4" r="2.9" fill="url(#gS)"/>
<circle cx="404.8" cy="758.8" r="3.2" fill="url(#gO)"/>
<circle cx="411.4" cy="758.1" r="3.2" fill="url(#gO)"/>
<circle cx="415" cy="757.4" r="3.2" fill="url(#gO)"/>
<circle cx="427.4" cy="755.2" r="3.2" fill="url(#gO)"/>
<circle cx="431.8" cy="759.6" r="3.2" fill="url(#gO)"/>
<circle cx="439.9" cy="758.1" r="3.2" fill="url(#gO)"/>
<circle cx="450.8" cy="751.5" r="3.2" fill="url(#gO)"/>
<circle cx="454.5" cy="755.9" r="3.2" fill="url(#gO)"/>
<circle cx="459.6" cy="758.8" r="3.2" fill="url(#gO)"/>
<circle cx="400.4" cy="754.5" r="3.2" fill="url(#gO)"/>
<circle cx="412.8" cy="711.4" r="2.9" fill="url(#gPt)"/>
<circle cx="428.9" cy="715" r="2.9" fill="url(#gPt)"/>
<circle cx="412.8" cy="726" r="2.9" fill="url(#gPt)"/>
<circle cx="420.1" cy="727" r="2.9" fill="url(#gPt)"/>
<circle cx="442" cy="728.2" r="2.9" fill="url(#gPt)"/>
<circle cx="408.5" cy="728.9" r="2.9" fill="url(#gPt)"/>
<circle cx="428.9" cy="728.9" r="2.9" fill="url(#gPt)"/>
<circle cx="422.3" cy="741.3" r="2.9" fill="url(#gPt)"/>
<circle cx="404.1" cy="742" r="2.9" fill="url(#gPt)"/>
<circle cx="445" cy="742" r="2.9" fill="url(#gPt)"/>
<circle cx="397.5" cy="743.1" r="2.9" fill="url(#gPt)"/>
<circle cx="452.3" cy="743.1" r="2.9" fill="url(#gPt)"/>
<circle cx="411.4" cy="743.5" r="2.9" fill="url(#gPt)"/>
<circle cx="426.4" cy="743.5" r="2.9" fill="url(#gPt)"/>
<circle cx="418" cy="744.2" r="2.9" fill="url(#gPt)"/>
<circle cx="439.1" cy="744.2" r="2.9" fill="url(#gPt)"/>
<circle cx="432.6" cy="745" r="2.9" fill="url(#gPt)"/>
<circle cx="419.7" cy="706.3" r="3.2" fill="url(#gO)"/>
<circle cx="415" cy="702.6" r="2.9" fill="url(#gC)"/>
<circle cx="422.3" cy="697.5" r="2.9" fill="url(#gC)"/>
<circle cx="433.3" cy="698.2" r="2.9" fill="url(#gC)"/>
<circle cx="408.5" cy="701.9" r="2.6" fill="url(#gH)"/>
<circle cx="419.1" cy="691.7" r="2.6" fill="url(#gH)"/>
<circle cx="436.2" cy="693.1" r="2.6" fill="url(#gH)"/>
<circle cx="437.7" cy="696.1" r="2.6" fill="url(#gH)"/>
<rect x="529" y="583" width="71" height="3.2" fill="#e3e3bd"/>
<line x1="529" y1="586.2" x2="600" y2="586.2" stroke="#c9c995" stroke-width="0.8"/>
<path d="M540.2 583.5L532 574.7M540.2 583.5L542.5 573M540.2 583.5L546 577.7M540.2 583.5L552.4 575.9M540.2 583.5L530 578M565.3 583.5L552.4 575.9M565.3 583.5L556 576.5M565.3 583.5L562.4 570.7M565.3 583.5L566.5 574.7M565.3 583.5L571.1 577.1M565.3 583.5L579.3 576.5M592.2 583.2L579.3 576.5M592.2 583.2L588.1 570.7M592.2 583.2L592.2 575.9M592.2 583.2L596.8 577.7" stroke="#e8e8c4" stroke-width="1.6" fill="none"/>
<path d="M538.4 563.1L532 574.7M538.4 563.1L542.5 573M545.4 561.3L542.5 573M545.4 561.3L546 577.7M551.9 563.6L546 577.7M551.9 563.6L552.4 575.9M551.9 563.6L556 576.5M557.7 564.8L552.4 575.9M557.7 564.8L556 576.5M557.7 564.8L562.4 570.7M565.3 563.6L562.4 570.7M565.3 563.6L566.5 574.7M565.3 563.6L571.1 577.1M571.7 564.8L566.5 574.7M571.7 564.8L571.1 577.1M577 563.6L571.1 577.1M577 563.6L579.3 576.5M582.8 561.7L579.3 576.5M582.8 561.7L588.1 570.7M589.8 563.6L588.1 570.7M589.8 563.6L592.2 575.9M561.2 560.7L556 576.5M561.2 560.7L562.4 570.7M561.2 560.7L566.5 574.7" stroke="#d93030" stroke-width="1.1" fill="none"/>
<path d="M557.1 536.2L548.4 550.2M557.1 536.2L554.8 546.7M557.1 536.2L563 549M575.2 535.6L569.4 550.2M575.2 535.6L581.6 550M548.4 550.2L554.8 546.7M548.4 550.2L563 549M548.4 550.2L538.4 563.1M548.4 550.2L545.4 561.3M548.4 550.2L551.9 563.6M548.4 550.2L557.7 564.8M548.4 550.2L561.2 560.7M554.8 546.7L563 549M554.8 546.7L569.4 550.2M554.8 546.7L545.4 561.3M554.8 546.7L551.9 563.6M554.8 546.7L561.2 560.7M563 549L569.4 550.2M563 549L557.7 564.8M563 549L565.3 563.6M563 549L561.2 560.7M569.4 550.2L581.6 550M569.4 550.2L565.3 563.6M569.4 550.2L571.7 564.8M569.4 550.2L577 563.6M569.4 550.2L561.2 560.7M581.6 550L577 563.6M581.6 550L582.8 561.7M581.6 550L589.8 563.6M538.4 563.1L545.4 561.3M538.4 563.1L551.9 563.6M545.4 561.3L551.9 563.6M545.4 561.3L557.7 564.8M545.4 561.3L561.2 560.7M551.9 563.6L557.7 564.8M551.9 563.6L565.3 563.6M551.9 563.6L561.2 560.7M557.7 564.8L565.3 563.6M557.7 564.8L571.7 564.8M557.7 564.8L561.2 560.7M565.3 563.6L571.7 564.8M565.3 563.6L577 563.6M565.3 563.6L561.2 560.7M571.7 564.8L577 563.6M571.7 564.8L582.8 561.7M571.7 564.8L561.2 560.7M577 563.6L582.8 561.7M577 563.6L589.8 563.6M577 563.6L561.2 560.7M582.8 561.7L589.8 563.6" stroke="#2d6c8a" stroke-width="1.15" fill="none"/>
<path d="M557.1 536.2L562.1 535M575.2 535.6L562.1 535M554.8 546.7L562.1 535M563 549L562.1 535" stroke="#d42a2a" stroke-width="1.2" fill="none"/>
<path d="M555.4 522.2L546.6 521.6M557.1 536.2L555.4 522.2M558.9 515.2L555.4 522.2M559.5 528L555.4 522.2M555.4 522.2L558.9 515.2M567.6 515L558.9 515.2M554.2 511.1L558.9 515.2M558.9 515.2L567.6 515M570 509.3L567.6 515M572.9 519.3L567.6 515" stroke="#8a8a8a" stroke-width="1.3" fill="none"/>
<circle cx="540.2" cy="583.5" r="2.9" fill="url(#gS)"/>
<circle cx="565.3" cy="583.5" r="2.9" fill="url(#gS)"/>
<circle cx="592.2" cy="583.2" r="2.9" fill="url(#gS)"/>
<circle cx="532" cy="574.7" r="3.2" fill="url(#gO)"/>
<circle cx="542.5" cy="573" r="3.2" fill="url(#gO)"/>
<circle cx="546" cy="577.7" r="3.2" fill="url(#gO)"/>
<circle cx="552.4" cy="575.9" r="3.2" fill="url(#gO)"/>
<circle cx="556" cy="576.5" r="3.2" fill="url(#gO)"/>
<circle cx="562.4" cy="570.7" r="3.2" fill="url(#gO)"/>
<circle cx="566.5" cy="574.7" r="3.2" fill="url(#gO)"/>
<circle cx="571.1" cy="577.1" r="3.2" fill="url(#gO)"/>
<circle cx="579.3" cy="576.5" r="3.2" fill="url(#gO)"/>
<circle cx="588.1" cy="570.7" r="3.2" fill="url(#gO)"/>
<circle cx="592.2" cy="575.9" r="3.2" fill="url(#gO)"/>
<circle cx="596.8" cy="577.7" r="3.2" fill="url(#gO)"/>
<circle cx="530" cy="578" r="3.2" fill="url(#gO)"/>
<circle cx="575.2" cy="535.6" r="2.9" fill="url(#gPt)"/>
<circle cx="557.1" cy="536.2" r="2.9" fill="url(#gPt)"/>
<circle cx="554.8" cy="546.7" r="2.9" fill="url(#gPt)"/>
<circle cx="563" cy="549" r="2.9" fill="url(#gPt)"/>
<circle cx="581.6" cy="550" r="2.9" fill="url(#gPt)"/>
<circle cx="548.4" cy="550.2" r="2.9" fill="url(#gPt)"/>
<circle cx="569.4" cy="550.2" r="2.9" fill="url(#gPt)"/>
<circle cx="561.2" cy="560.7" r="2.9" fill="url(#gPt)"/>
<circle cx="545.4" cy="561.3" r="2.9" fill="url(#gPt)"/>
<circle cx="582.8" cy="561.7" r="2.9" fill="url(#gPt)"/>
<circle cx="538.4" cy="563.1" r="2.9" fill="url(#gPt)"/>
<circle cx="551.9" cy="563.6" r="2.9" fill="url(#gPt)"/>
<circle cx="565.3" cy="563.6" r="2.9" fill="url(#gPt)"/>
<circle cx="577" cy="563.6" r="2.9" fill="url(#gPt)"/>
<circle cx="589.8" cy="563.6" r="2.9" fill="url(#gPt)"/>
<circle cx="557.7" cy="564.8" r="2.9" fill="url(#gPt)"/>
<circle cx="571.7" cy="564.8" r="2.9" fill="url(#gPt)"/>
<circle cx="562.1" cy="535" r="3.2" fill="url(#gO)"/>
<circle cx="546.6" cy="521.6" r="3.2" fill="url(#gO)"/>
<circle cx="555.4" cy="522.2" r="2.9" fill="url(#gC)"/>
<circle cx="558.9" cy="515.2" r="2.9" fill="url(#gC)"/>
<circle cx="567.6" cy="515" r="2.9" fill="url(#gC)"/>
<circle cx="554.2" cy="511.1" r="2.6" fill="url(#gH)"/>
<circle cx="570" cy="509.3" r="2.6" fill="url(#gH)"/>
<circle cx="572.9" cy="519.3" r="2.6" fill="url(#gH)"/>
<circle cx="559.5" cy="528" r="2.6" fill="url(#gH)"/>
<rect x="600" y="583" width="71" height="3.2" fill="#e3e3bd"/>
<line x1="600" y1="586.2" x2="671" y2="586.2" stroke="#c9c995" stroke-width="0.8"/>
<path d="M609.1 583.2L602.7 572.4M609.1 583.2L610.3 571.2M609.1 583.2L614.9 576.5M609.1 583.2L620.8 574.2M635.4 583.5L624.9 575.9M635.4 583.5L631.9 570.1M635.4 583.5L636.5 573.6M635.4 583.5L640.6 576.5M635.4 583.5L649.4 575.9M664 582.9L649.4 575.9M664 582.9L658.1 568.9M664 582.9L662.8 574.2M664 582.9L667.5 576.5" stroke="#e8e8c4" stroke-width="1.6" fill="none"/>
<path d="M607.3 560.1L602.7 572.4M607.3 560.1L610.3 571.2M614.4 559L610.3 571.2M614.4 559L620.8 574.2M621.4 560.7L620.8 574.2M621.4 560.7L624.9 575.9M626.6 563.1L620.8 574.2M626.6 563.1L624.9 575.9M626.6 563.1L631.9 570.1M632.5 559L631.9 570.1M632.5 559L636.5 573.6M636 561.3L631.9 570.1M636 561.3L636.5 573.6M636 561.3L640.6 576.5M641.2 563.1L636.5 573.6M641.2 563.1L640.6 576.5M648.2 563.1L649.4 575.9M653.5 560.1L649.4 575.9M653.5 560.1L658.1 568.9M661.7 561.3L658.1 568.9M661.7 561.3L662.8 574.2M661.7 561.3L667.5 576.5" stroke="#d93030" stroke-width="1.1" fill="none"/>
<path d="M625.7 530.6L619 546.7M625.7 530.6L623.1 543.8M625.7 530.6L631.9 545.5M643 533.3L631.9 545.5M643 533.3L638.3 547.3M643 533.3L651.5 547.9M619 546.7L623.1 543.8M619 546.7L631.9 545.5M619 546.7L614.4 559M619 546.7L621.4 560.7M623.1 543.8L631.9 545.5M623.1 543.8L638.3 547.3M623.1 543.8L621.4 560.7M631.9 545.5L638.3 547.3M631.9 545.5L632.5 559M631.9 545.5L636 561.3M638.3 547.3L651.5 547.9M638.3 547.3L632.5 559M638.3 547.3L636 561.3M638.3 547.3L641.2 563.1M651.5 547.9L648.2 563.1M651.5 547.9L653.5 560.1M651.5 547.9L661.7 561.3M607.3 560.1L614.4 559M607.3 560.1L621.4 560.7M614.4 559L621.4 560.7M614.4 559L626.6 563.1M621.4 560.7L626.6 563.1M621.4 560.7L632.5 559M621.4 560.7L636 561.3M626.6 563.1L632.5 559M626.6 563.1L636 561.3M626.6 563.1L641.2 563.1M632.5 559L636 561.3M632.5 559L641.2 563.1M632.5 559L648.2 563.1M636 561.3L641.2 563.1M636 561.3L648.2 563.1M641.2 563.1L648.2 563.1M641.2 563.1L653.5 560.1M648.2 563.1L653.5 560.1M648.2 563.1L661.7 561.3M653.5 560.1L661.7 561.3" stroke="#2d6c8a" stroke-width="1.15" fill="none"/>
<path d="M625.7 530.6L636 532.1M643 533.3L636 532.1M631.9 545.5L636 532.1M638.3 547.3L636 532.1M625.7 530.6L620.2 524.5" stroke="#d42a2a" stroke-width="1.2" fill="none"/>
<path d="M626 524.5L620.2 524.5M625.7 530.6L626 524.5M628.6 517.3L626 524.5M625.7 530.6L628.6 517.3M626 524.5L628.6 517.3M637.1 515.8L628.6 517.3M623.1 511.7L628.6 517.3M628.6 517.3L637.1 515.8M637.7 508.8L637.1 515.8M644.7 518.1L637.1 515.8" stroke="#8a8a8a" stroke-width="1.3" fill="none"/>
<circle cx="609.1" cy="583.2" r="2.9" fill="url(#gS)"/>
<circle cx="635.4" cy="583.5" r="2.9" fill="url(#gS)"/>
<circle cx="664" cy="582.9" r="2.9" fill="url(#gS)"/>
<circle cx="602.7" cy="572.4" r="3.2" fill="url(#gO)"/>
<circle cx="610.3" cy="571.2" r="3.2" fill="url(#gO)"/>
<circle cx="614.9" cy="576.5" r="3.2" fill="url(#gO)"/>
<circle cx="620.8" cy="574.2" r="3.2" fill="url(#gO)"/>
<circle cx="624.9" cy="575.9" r="3.2" fill="url(#gO)"/>
<circle cx="631.9" cy="570.1" r="3.2" fill="url(#gO)"/>
<circle cx="636.5" cy="573.6" r="3.2" fill="url(#gO)"/>
<circle cx="640.6" cy="576.5" r="3.2" fill="url(#gO)"/>
<circle cx="649.4" cy="575.9" r="3.2" fill="url(#gO)"/>
<circle cx="658.1" cy="568.9" r="3.2" fill="url(#gO)"/>
<circle cx="662.8" cy="574.2" r="3.2" fill="url(#gO)"/>
<circle cx="667.5" cy="576.5" r="3.2" fill="url(#gO)"/>
<circle cx="625.7" cy="530.6" r="2.9" fill="url(#gPt)"/>
<circle cx="643" cy="533.3" r="2.9" fill="url(#gPt)"/>
<circle cx="623.1" cy="543.8" r="2.9" fill="url(#gPt)"/>
<circle cx="631.9" cy="545.5" r="2.9" fill="url(#gPt)"/>
<circle cx="619" cy="546.7" r="2.9" fill="url(#gPt)"/>
<circle cx="638.3" cy="547.3" r="2.9" fill="url(#gPt)"/>
<circle cx="651.5" cy="547.9" r="2.9" fill="url(#gPt)"/>
<circle cx="614.4" cy="559" r="2.9" fill="url(#gPt)"/>
<circle cx="632.5" cy="559" r="2.9" fill="url(#gPt)"/>
<circle cx="607.3" cy="560.1" r="2.9" fill="url(#gPt)"/>
<circle cx="653.5" cy="560.1" r="2.9" fill="url(#gPt)"/>
<circle cx="621.4" cy="560.7" r="2.9" fill="url(#gPt)"/>
<circle cx="636" cy="561.3" r="2.9" fill="url(#gPt)"/>
<circle cx="661.7" cy="561.3" r="2.9" fill="url(#gPt)"/>
<circle cx="626.6" cy="563.1" r="2.9" fill="url(#gPt)"/>
<circle cx="641.2" cy="563.1" r="2.9" fill="url(#gPt)"/>
<circle cx="648.2" cy="563.1" r="2.9" fill="url(#gPt)"/>
<circle cx="636" cy="532.1" r="3.2" fill="url(#gO)"/>
<circle cx="620.2" cy="524.5" r="3.2" fill="url(#gO)"/>
<circle cx="626" cy="524.5" r="2.9" fill="url(#gC)"/>
<circle cx="628.6" cy="517.3" r="2.9" fill="url(#gC)"/>
<circle cx="637.1" cy="515.8" r="2.9" fill="url(#gC)"/>
<circle cx="623.1" cy="511.7" r="2.6" fill="url(#gH)"/>
<circle cx="637.7" cy="508.8" r="2.6" fill="url(#gH)"/>
<circle cx="644.7" cy="518.1" r="2.6" fill="url(#gH)"/>
<text x="74.3" y="701" font-size="11" font-weight="bold" fill="#f0302a" textLength="22.5" lengthAdjust="spacingAndGlyphs">TS-1</text>
<text x="147.8" y="701" font-size="11" font-weight="bold" fill="#f0302a" textLength="22.9" lengthAdjust="spacingAndGlyphs">TS-2</text>
<text x="235.1" y="701" font-size="11" font-weight="bold" fill="#f0302a" textLength="22.5" lengthAdjust="spacingAndGlyphs">TS-3</text>
<text x="309.7" y="701" font-size="11" font-weight="bold" fill="#f0302a" textLength="22.5" lengthAdjust="spacingAndGlyphs">TS-4</text>
<text x="380.6" y="701" font-size="11" font-weight="bold" fill="#f0302a" textLength="22.5" lengthAdjust="spacingAndGlyphs">TS-5</text>
<text x="580.8" y="517.8" font-size="11" font-weight="bold" fill="#f0302a" textLength="23.1" lengthAdjust="spacingAndGlyphs">TS-7</text>
<text x="651" y="517.8" font-size="11" font-weight="bold" fill="#f0302a" textLength="22.8" lengthAdjust="spacingAndGlyphs">TS-8</text>
<polyline fill="none" stroke="#f2302a" stroke-width="1.35" stroke-linejoin="round" points="55.7,550.4 76.2,550.4 81,551.1 103.8,551.1 118.2,547.6 136.6,547.6 151.9,566.1 167.9,566.1 184.2,586.4 199.4,586.4 215.7,532.9 231.4,532.9 247.2,562.6 263,562.6 279.3,538.5 295,538.5 310.8,607.7 326.3,607.7 342.6,572.4 365.7,572.4 372,573.5 390.6,573.5 407.2,544.5 422.2,544.5 438.7,619.6 466,619.6 472,620.3 486.5,620.3 500.9,616.8 518,616.8 533.8,635.7 550.3,635.7 566.1,610.9 581.8,610.9 597.5,713.6 613.2,713.6 629.8,676.9 645.6,676.9 661.3,730.7 676.7,730.7"/>
<g stroke="#999" stroke-width="0.6">
<line x1="95" y1="546" x2="101" y2="551"/>
<line x1="186" y1="581" x2="196" y2="586"/>
<line x1="318" y1="601" x2="325" y2="607"/>
<line x1="540" y1="631" x2="548" y2="635"/>
<line x1="604" y1="706" x2="612" y2="713"/>
<line x1="663" y1="720" x2="674" y2="730"/>
<line x1="388" y1="569" x2="390" y2="573"/>
</g>
<text x="70.4" y="544.6" font-size="9.3" font-weight="bold" text-anchor="middle" fill="#444" textLength="17.3" lengthAdjust="spacingAndGlyphs">0.00</text>
<text x="97.7" y="544.6" font-size="9.3" font-weight="bold" text-anchor="middle" fill="#444" textLength="20.6" lengthAdjust="spacingAndGlyphs">-0.02</text>
<text x="139.3" y="541.5" font-size="9.3" font-weight="bold" text-anchor="middle" fill="#444" textLength="17.3" lengthAdjust="spacingAndGlyphs">0.08</text>
<text x="163.4" y="560.4" font-size="9.3" font-weight="bold" text-anchor="middle" fill="#444" textLength="20.6" lengthAdjust="spacingAndGlyphs">-0.45</text>
<text x="189.4" y="579.3" font-size="9.3" font-weight="bold" text-anchor="middle" fill="#444" textLength="20.6" lengthAdjust="spacingAndGlyphs">-1.03</text>
<text x="225.7" y="526.8" font-size="9.3" font-weight="bold" text-anchor="middle" fill="#444" textLength="17.3" lengthAdjust="spacingAndGlyphs">0.50</text>
<text x="256.4" y="556.2" font-size="9.3" font-weight="bold" text-anchor="middle" fill="#444" textLength="20.6" lengthAdjust="spacingAndGlyphs">-0.35</text>
<text x="289.3" y="532.5" font-size="9.3" font-weight="bold" text-anchor="middle" fill="#444" textLength="17.3" lengthAdjust="spacingAndGlyphs">0.34</text>
<text x="320.8" y="599" font-size="9.3" font-weight="bold" text-anchor="middle" fill="#444" textLength="20.6" lengthAdjust="spacingAndGlyphs">-1.64</text>
<text x="355.2" y="567.3" font-size="9.3" font-weight="bold" text-anchor="middle" fill="#444" textLength="20.6" lengthAdjust="spacingAndGlyphs">-0.63</text>
<text x="383.6" y="567.3" font-size="9.3" font-weight="bold" text-anchor="middle" fill="#444" textLength="20.6" lengthAdjust="spacingAndGlyphs">-0.66</text>
<text x="416.4" y="538.9" font-size="9.3" font-weight="bold" text-anchor="middle" fill="#444" textLength="17.3" lengthAdjust="spacingAndGlyphs">0.17</text>
<text x="452" y="614" font-size="9.3" font-weight="bold" text-anchor="middle" fill="#444" textLength="20.6" lengthAdjust="spacingAndGlyphs">-1.98</text>
<text x="480" y="614" font-size="9.3" font-weight="bold" text-anchor="middle" fill="#444" textLength="20.6" lengthAdjust="spacingAndGlyphs">-2.00</text>
<text x="512" y="610.5" font-size="9.3" font-weight="bold" text-anchor="middle" fill="#444" textLength="20.6" lengthAdjust="spacingAndGlyphs">-1.90</text>
<text x="544.3" y="630.1" font-size="9.3" font-weight="bold" text-anchor="middle" fill="#444" textLength="20.6" lengthAdjust="spacingAndGlyphs">-2.44</text>
<text x="578.4" y="605.2" font-size="9.3" font-weight="bold" text-anchor="middle" fill="#444" textLength="20.6" lengthAdjust="spacingAndGlyphs">-1.73</text>
<text x="608" y="704.8" font-size="9.3" font-weight="bold" text-anchor="middle" fill="#444" textLength="20.6" lengthAdjust="spacingAndGlyphs">-4.67</text>
<text x="641.1" y="671.5" font-size="9.3" font-weight="bold" text-anchor="middle" fill="#444" textLength="20.6" lengthAdjust="spacingAndGlyphs">-3.62</text>
<text x="667.9" y="718.2" font-size="9.3" font-weight="bold" text-anchor="middle" fill="#444" textLength="20.6" lengthAdjust="spacingAndGlyphs">-5.16</text>
<text x="126.1" y="559.3" font-size="7.6" font-weight="bold" text-anchor="middle" fill="#f0302a" textLength="16.3" lengthAdjust="spacingAndGlyphs">TS-1</text>
<text x="224.4" y="544.7" font-size="7.6" font-weight="bold" text-anchor="middle" fill="#f0302a" textLength="16.3" lengthAdjust="spacingAndGlyphs">TS-2</text>
<text x="286.1" y="549.9" font-size="7.6" font-weight="bold" text-anchor="middle" fill="#f0302a" textLength="16.3" lengthAdjust="spacingAndGlyphs">TS-3</text>
<text x="353.3" y="583" font-size="7.6" font-weight="bold" text-anchor="middle" fill="#f0302a" textLength="16.3" lengthAdjust="spacingAndGlyphs">TS-4</text>
<text x="413.5" y="558.9" font-size="7.6" font-weight="bold" text-anchor="middle" fill="#f0302a" textLength="16.3" lengthAdjust="spacingAndGlyphs">TS-5</text>
<text x="510.1" y="626.2" font-size="7.6" font-weight="bold" text-anchor="middle" fill="#f0302a" textLength="16.3" lengthAdjust="spacingAndGlyphs">TS-6</text>
<text x="573.2" y="623.8" font-size="7.6" font-weight="bold" text-anchor="middle" fill="#f0302a" textLength="16.3" lengthAdjust="spacingAndGlyphs">TS-7</text>
<text x="639" y="692.5" font-size="7.6" font-weight="bold" text-anchor="middle" fill="#f0302a" textLength="16.3" lengthAdjust="spacingAndGlyphs">TS-8</text>
<text x="96.5" y="622.3" font-size="11.5" font-weight="bold" text-anchor="middle" fill="#111">(i)</text>
<text x="162.7" y="640.6" font-size="11.5" font-weight="bold" text-anchor="middle" fill="#111">(ii)</text>
<text x="193" y="651.2" font-size="11.5" font-weight="bold" text-anchor="middle" fill="#111">(iii)</text>
<text x="257.6" y="644.6" font-size="11.5" font-weight="bold" text-anchor="middle" fill="#111">(iv)</text>
<text x="319.3" y="677.7" font-size="11.5" font-weight="bold" text-anchor="middle" fill="#111">(v)</text>
<text x="385" y="636.2" font-size="11.5" font-weight="bold" text-anchor="middle" fill="#111">(vi)</text>
<text x="452.3" y="602.8" font-size="11.5" font-weight="bold" text-anchor="middle" fill="#111">(vii)</text>
<text x="479.4" y="602.8" font-size="11.5" font-weight="bold" text-anchor="middle" fill="#111">(viii)</text>
<text x="544" y="705.2" font-size="11.5" font-weight="bold" text-anchor="middle" fill="#111">(ix)</text>
<text x="605.6" y="694.6" font-size="11.5" font-weight="bold" text-anchor="middle" fill="#111">(x)</text>
<text x="667.1" y="704.6" font-size="11.5" font-weight="bold" text-anchor="middle" fill="#111">(xi)</text>
<text x="0" y="0" font-size="9" text-anchor="middle" font-weight="bold" fill="#111" textLength="59.1" lengthAdjust="spacingAndGlyphs" transform="translate(68.4 582.2) rotate(-90)">C<tspan font-size="6" dy="2">3</tspan><tspan dy="-2"></tspan>H<tspan font-size="6" dy="2">6</tspan><tspan dy="-2"></tspan>(g)+O<tspan font-size="6" dy="2">2</tspan><tspan dy="-2"></tspan>(g)</text>
<text x="0" y="0" font-size="9" text-anchor="middle" font-weight="bold" fill="#111" textLength="49.9" lengthAdjust="spacingAndGlyphs" transform="translate(98.7 582.8) rotate(-90)">C<tspan font-size="6" dy="2">3</tspan><tspan dy="-2"></tspan>H<tspan font-size="6" dy="2">6</tspan><tspan dy="-2"></tspan>(g)+O<tspan font-size="6" dy="2">2</tspan><tspan dy="-2"></tspan><tspan font-size="7" dy="-3">*</tspan><tspan dy="3"></tspan></text>
<text x="0" y="0" font-size="9" text-anchor="middle" font-weight="bold" fill="#111" textLength="52.6" lengthAdjust="spacingAndGlyphs" transform="translate(165.7 599.9) rotate(-90)">C<tspan font-size="6" dy="2">3</tspan><tspan dy="-2"></tspan>H<tspan font-size="6" dy="2">6</tspan><tspan dy="-2"></tspan>(g)+2O<tspan font-size="7" dy="-3">*</tspan><tspan dy="3"></tspan></text>
<text x="0" y="0" font-size="9" text-anchor="middle" font-weight="bold" fill="#111" textLength="43.3" lengthAdjust="spacingAndGlyphs" transform="translate(196 616.4) rotate(-90)">C<tspan font-size="6" dy="2">3</tspan><tspan dy="-2"></tspan>H<tspan font-size="6" dy="2">6</tspan><tspan dy="-2"></tspan><tspan font-size="7" dy="-3">*</tspan><tspan dy="3"></tspan>+2O<tspan font-size="7" dy="-3">*</tspan><tspan dy="3"></tspan></text>
<text x="0" y="0" font-size="9" text-anchor="middle" font-weight="bold" fill="#111" textLength="61.7" lengthAdjust="spacingAndGlyphs" transform="translate(260.1 596.1) rotate(-90)">C<tspan font-size="6" dy="2">3</tspan><tspan dy="-2"></tspan>H<tspan font-size="6" dy="2">5</tspan><tspan dy="-2"></tspan><tspan font-size="7" dy="-3">*</tspan><tspan dy="3"></tspan>+O<tspan font-size="7" dy="-3">*</tspan><tspan dy="3"></tspan>+OH<tspan font-size="7" dy="-3">*</tspan><tspan dy="3"></tspan></text>
<text x="0" y="0" font-size="9" text-anchor="middle" font-weight="bold" fill="#111" textLength="49.9" lengthAdjust="spacingAndGlyphs" transform="translate(322.3 638.8) rotate(-90)">C<tspan font-size="6" dy="2">3</tspan><tspan dy="-2"></tspan>H<tspan font-size="6" dy="2">4</tspan><tspan dy="-2"></tspan><tspan font-size="7" dy="-3">*</tspan><tspan dy="3"></tspan>+2OH<tspan font-size="7" dy="-3">*</tspan><tspan dy="3"></tspan></text>
<text x="0" y="0" font-size="9" text-anchor="middle" font-weight="bold" fill="#111" textLength="34.1" lengthAdjust="spacingAndGlyphs" transform="translate(386.7 602) rotate(-90)">C<tspan font-size="6" dy="2">3</tspan><tspan dy="-2"></tspan>H<tspan font-size="6" dy="2">4</tspan><tspan dy="-2"></tspan><tspan font-size="7" dy="-3">*</tspan><tspan dy="3"></tspan>+O<tspan font-size="7" dy="-3">*</tspan><tspan dy="3"></tspan></text>
<text x="0" y="0" font-size="9" text-anchor="middle" font-weight="bold" fill="#111" textLength="27.6" lengthAdjust="spacingAndGlyphs" transform="translate(455.4 650.6) rotate(-90)">C<tspan font-size="6" dy="2">3</tspan><tspan dy="-2"></tspan>H<tspan font-size="6" dy="2">4</tspan><tspan dy="-2"></tspan>O<tspan font-size="7" dy="-3">*</tspan><tspan dy="3"></tspan></text>
<text x="0" y="0" font-size="9" text-anchor="middle" font-weight="bold" fill="#111" textLength="57.2" lengthAdjust="spacingAndGlyphs" transform="translate(483 651.1) rotate(-90)">C<tspan font-size="6" dy="2">3</tspan><tspan dy="-2"></tspan>H<tspan font-size="6" dy="2">4</tspan><tspan dy="-2"></tspan>O<tspan font-size="7" dy="-3">*</tspan><tspan dy="3"></tspan>+O<tspan font-size="6" dy="2">2</tspan><tspan dy="-2"></tspan>(g)</text>
<text x="0" y="0" font-size="9" text-anchor="middle" font-weight="bold" fill="#111" textLength="52.5" lengthAdjust="spacingAndGlyphs" transform="translate(546.2 666.8) rotate(-90)">C<tspan font-size="6" dy="2">3</tspan><tspan dy="-2"></tspan>H<tspan font-size="6" dy="2">4</tspan><tspan dy="-2"></tspan>O<tspan font-size="7" dy="-3">*</tspan><tspan dy="3"></tspan>+2O<tspan font-size="7" dy="-3">*</tspan><tspan dy="3"></tspan></text>
<text x="0" y="0" font-size="9" text-anchor="middle" font-weight="bold" fill="#111" textLength="68.4" lengthAdjust="spacingAndGlyphs" transform="translate(609.8 749.8) rotate(-90)">C<tspan font-size="6" dy="2">3</tspan><tspan dy="-2"></tspan>H<tspan font-size="6" dy="2">3</tspan><tspan dy="-2"></tspan>O<tspan font-size="7" dy="-3">*</tspan><tspan dy="3"></tspan>+O<tspan font-size="7" dy="-3">*</tspan><tspan dy="3"></tspan>+OH<tspan font-size="7" dy="-3">*</tspan><tspan dy="3"></tspan></text>
<text x="0" y="0" font-size="9" text-anchor="middle" font-weight="bold" fill="#111" textLength="57.8" lengthAdjust="spacingAndGlyphs" transform="translate(672.8 761.6) rotate(-90)">C<tspan font-size="6" dy="2">3</tspan><tspan dy="-2"></tspan>H<tspan font-size="6" dy="2">3</tspan><tspan dy="-2"></tspan>O<tspan font-size="6" dy="2">2</tspan><tspan dy="-2"></tspan><tspan font-size="7" dy="-3">*</tspan><tspan dy="3"></tspan>+OH<tspan font-size="7" dy="-3">*</tspan><tspan dy="3"></tspan></text>
<g stroke="#555" fill="none">
<path d="M55.7 480.5H677.2V795.9H55.7Z" stroke-width="1.1"/>
<line x1="52.4" y1="795.9" x2="677.2" y2="795.9" stroke-width="1.6"/>
<line x1="52.4" y1="480.5" x2="55.7" y2="480.5"/>
<line x1="52.4" y1="515.4" x2="55.7" y2="515.4"/>
<line x1="52.4" y1="550.4" x2="55.7" y2="550.4"/>
<line x1="52.4" y1="585.4" x2="55.7" y2="585.4"/>
<line x1="52.4" y1="620.3" x2="55.7" y2="620.3"/>
<line x1="52.4" y1="655.2" x2="55.7" y2="655.2"/>
<line x1="52.4" y1="690.2" x2="55.7" y2="690.2"/>
<line x1="52.4" y1="725.1" x2="55.7" y2="725.1"/>
<line x1="52.4" y1="760.1" x2="55.7" y2="760.1"/>
<line x1="52.4" y1="795" x2="55.7" y2="795"/>
</g>
<text x="43.8" y="484.3" font-size="10.5" font-weight="bold" text-anchor="end" textLength="14.6" lengthAdjust="spacingAndGlyphs">2.0</text>
<text x="43.8" y="519.2" font-size="10.5" font-weight="bold" text-anchor="end" textLength="14.6" lengthAdjust="spacingAndGlyphs">1.0</text>
<text x="43.8" y="554.2" font-size="10.5" font-weight="bold" text-anchor="end" textLength="14.6" lengthAdjust="spacingAndGlyphs">0.0</text>
<text x="43.8" y="589.1" font-size="10.5" font-weight="bold" text-anchor="end" textLength="18.8" lengthAdjust="spacingAndGlyphs">-1.0</text>
<text x="43.8" y="624.1" font-size="10.5" font-weight="bold" text-anchor="end" textLength="18.8" lengthAdjust="spacingAndGlyphs">-2.0</text>
<text x="43.8" y="659" font-size="10.5" font-weight="bold" text-anchor="end" textLength="18.8" lengthAdjust="spacingAndGlyphs">-3.0</text>
<text x="43.8" y="694" font-size="10.5" font-weight="bold" text-anchor="end" textLength="18.8" lengthAdjust="spacingAndGlyphs">-4.0</text>
<text x="43.8" y="728.9" font-size="10.5" font-weight="bold" text-anchor="end" textLength="18.8" lengthAdjust="spacingAndGlyphs">-5.0</text>
<text x="43.8" y="763.9" font-size="10.5" font-weight="bold" text-anchor="end" textLength="18.8" lengthAdjust="spacingAndGlyphs">-6.0</text>
<text x="43.8" y="798.8" font-size="10.5" font-weight="bold" text-anchor="end" textLength="18.8" lengthAdjust="spacingAndGlyphs">-7.0</text>
<text x="0" y="0" font-size="17.5" text-anchor="middle" font-weight="bold" textLength="141" lengthAdjust="spacingAndGlyphs" transform="translate(18.1 647.4) rotate(-90)">Free energy (eV)</text>
<text x="366.6" y="812.2" font-size="16" font-weight="bold" text-anchor="middle" textLength="161.4" lengthAdjust="spacingAndGlyphs">Reaction coordinate</text>
</svg></body></html>
